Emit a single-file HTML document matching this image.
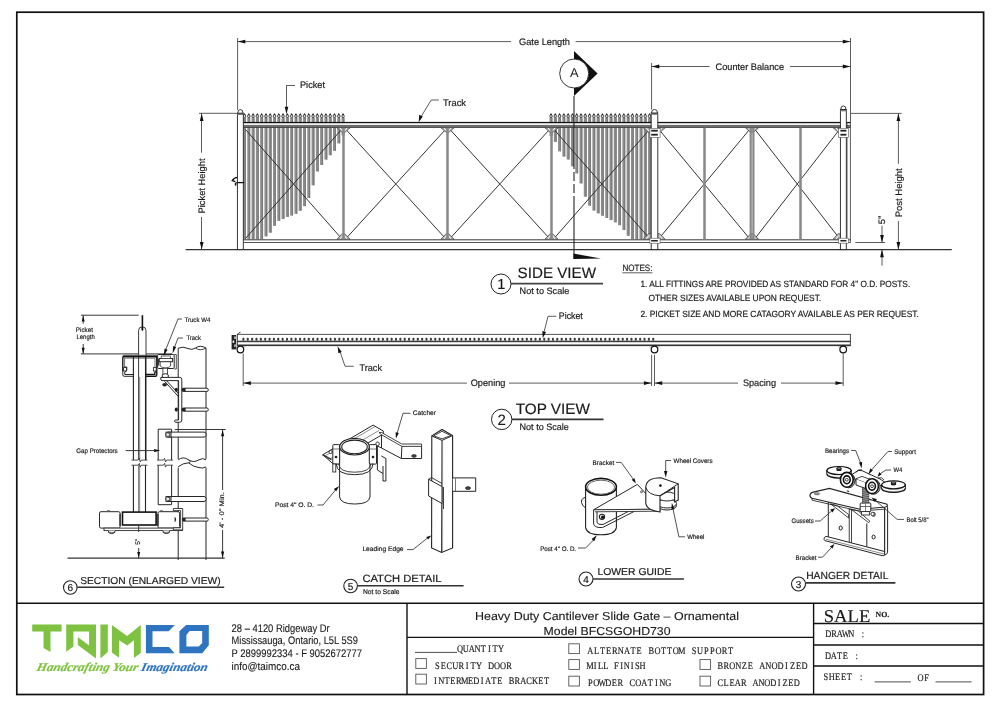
<!DOCTYPE html>
<html><head><meta charset="utf-8">
<style>
html,body{margin:0;padding:0;background:#fff;width:1000px;height:707px;overflow:hidden}
svg{display:block;font-family:"Liberation Sans",sans-serif;text-rendering:geometricPrecision}
text{-webkit-font-smoothing:antialiased}
svg{will-change:transform}
.t{font-family:"Liberation Sans",sans-serif;fill:#1a1a1a;stroke:#1a1a1a;stroke-width:0.18px}
.s{font-family:"Liberation Serif",serif;fill:#1a1a1a;stroke:#1a1a1a;stroke-width:0.15px}
.c{font-family:"Liberation Sans",sans-serif;fill:#1a1a1a;stroke:#1a1a1a;stroke-width:0.12px}
.m{font-family:"Liberation Mono",monospace;fill:#222;stroke:#222;stroke-width:0.4px}
.o{font-family:"Liberation Serif",serif;fill:#222;stroke:#222;stroke-width:0.18px}
</style></head><body>
<svg width="1000" height="707" viewBox="0 0 1000 707">

<g fill="none" stroke="#111">
<rect x="16.8" y="12.2" width="966.8" height="682.3" stroke-width="1.7"/>
<line x1="16.8" y1="603.2" x2="983.6" y2="603.2" stroke-width="1.6"/>
<line x1="407" y1="603.2" x2="407" y2="694.5" stroke-width="1.4"/>
<line x1="813.6" y1="603.2" x2="813.6" y2="694.5" stroke-width="1.4"/>
<line x1="407" y1="637.4" x2="813.6" y2="637.4" stroke-width="1.3"/>
<line x1="813.6" y1="623.5" x2="983.6" y2="623.5" stroke-width="1.3"/>
<line x1="813.6" y1="645" x2="983.6" y2="645" stroke-width="1.3"/>
<line x1="813.6" y1="666" x2="983.6" y2="666" stroke-width="1.3"/>
</g>
<text class="c" x="231.6" y="631.5" font-size="11" textLength="98" lengthAdjust="spacingAndGlyphs" >28 – 4120 Ridgeway Dr</text>
<text class="c" x="231.6" y="644.2" font-size="11" textLength="126.4" lengthAdjust="spacingAndGlyphs" >Mississauga, Ontario, L5L 5S9</text>
<text class="c" x="231.6" y="656.9" font-size="11" textLength="130.4" lengthAdjust="spacingAndGlyphs" >P 2899992334 - F 9052672777</text>
<text class="c" x="231.6" y="669.6" font-size="11" textLength="68.4" lengthAdjust="spacingAndGlyphs" >info@taimco.ca</text>
<text class="c" x="475" y="620" font-size="11.5" textLength="263.9" lengthAdjust="spacingAndGlyphs" >Heavy Duty Cantilever Slide Gate – Ornamental</text>
<text class="c" x="543.6" y="635" font-size="11.5" textLength="126.9" lengthAdjust="spacingAndGlyphs" >Model BFCSGOHD730</text>
<line x1="415.00" y1="652.40" x2="457.00" y2="652.40" stroke="#222" stroke-width="0.8" />
<text class="o" x="547.54 554.54 561.53 568.53 575.52 582.51 589.51 596.50" y="652.4" font-size="10" text-anchor="middle" transform="scale(0.84,1)">QUANTITY</text>
<text class="o" x="520.70 527.80 534.91 542.01 549.12 556.23 563.33 570.44 577.55 584.65 591.76 598.86 605.97" y="668.6" font-size="10" text-anchor="middle" transform="scale(0.84,1)">SECURITY DOOR</text>
<text class="o" x="518.25 525.23 532.20 539.18 546.15 553.13 560.11 567.08 574.06 581.04 588.01 594.99 601.96 608.94 615.92 622.89 629.87 636.85 643.82 650.80" y="684.2" font-size="10" text-anchor="middle" transform="scale(0.84,1)">INTERMEDIATE BRACKET</text>
<text class="o" x="702.80 710.06 717.32 724.58 731.85 739.11 746.37 753.63 760.89 768.15 775.42 782.68 789.94 797.20 804.46 811.73 818.99 826.25 833.51 840.77 848.04 855.30 862.56 869.82" y="653.6" font-size="10" text-anchor="middle" transform="scale(0.84,1)">ALTERNATE BOTTOM SUPPORT</text>
<text class="o" x="702.31 708.58 714.86 721.14 727.41 733.69 739.97 746.24 752.52 758.80 765.08" y="669.4" font-size="10" text-anchor="middle" transform="scale(0.84,1)">MILL FINISH</text>
<text class="o" x="702.74 709.88 717.02 724.17 731.31 738.45 745.60 752.74 759.88 767.02 774.17 781.31 788.45 795.60" y="686" font-size="10" text-anchor="middle" transform="scale(0.84,1)">POWDER COATING</text>
<text class="o" x="857.51 864.67 871.83 878.98 886.14 893.30 900.46 907.62 914.78 921.94 929.10 936.25 943.41 950.57 957.73" y="669.4" font-size="10" text-anchor="middle" transform="scale(0.84,1)">BRONZE ANODIZED</text>
<text class="o" x="857.43 864.44 871.45 878.45 885.46 892.47 899.47 906.48 913.49 920.49 927.50 934.51 941.51 948.52" y="686" font-size="10" text-anchor="middle" transform="scale(0.84,1)">CLEAR ANODIZED</text>
<g fill="none" stroke="#555" stroke-width="0.9">
<rect x="415.8" y="658.6" width="10.6" height="9.8"/>
<rect x="415.8" y="674.2" width="10.6" height="9.8"/>
<rect x="568.8" y="643.8" width="10.6" height="9.8"/>
<rect x="568.8" y="659.6" width="10.6" height="9.8"/>
<rect x="568.8" y="676.2" width="10.6" height="9.8"/>
<rect x="700" y="659.6" width="10.6" height="9.8"/>
<rect x="700" y="676.2" width="10.6" height="9.8"/>
</g>
<text class="s" x="823.7" y="621.6" font-size="18" textLength="46.6" lengthAdjust="spacingAndGlyphs" >SALE</text>
<text class="s" x="875.6" y="617" font-size="8" textLength="13.7" lengthAdjust="spacingAndGlyphs" font-weight="bold">NO.</text>
<text class="o" x="985.95 992.86 999.76 1006.67 1013.57 1020.48 1027.38" y="637.4" font-size="10" text-anchor="middle" transform="scale(0.84,1)">DRAWN :</text>
<text class="o" x="985.89 992.68 999.46 1006.25 1013.04 1019.82" y="659.3" font-size="10" text-anchor="middle" transform="scale(0.84,1)">DATE :</text>
<text class="o" x="983.04 990.09 997.13 1004.17 1011.21 1018.25 1025.29" y="679.6" font-size="10" text-anchor="middle" transform="scale(0.84,1)">SHEET :</text>
<text class="o" x="1095.83 1103.21" y="681" font-size="10" text-anchor="middle" transform="scale(0.84,1)">OF</text>
<line x1="874.70" y1="681.90" x2="910.80" y2="681.90" stroke="#222" stroke-width="0.8" />
<line x1="935.50" y1="681.90" x2="971.60" y2="681.90" stroke="#222" stroke-width="0.8" />
<polygon points="32.20,624.50 61.60,624.50 61.60,631.50 50.50,631.50 50.50,652.00 43.50,648.00 43.50,631.50 32.20,631.50" fill="#7fc241" stroke="none" stroke-width="0.8" />
<polygon points="66.20,624.50 96.00,624.50 96.00,658.60 77.80,645.00 77.80,636.90 89.10,645.50 89.10,631.60 73.40,631.60 73.40,646.40 66.20,651.80" fill="#7fc241" stroke="none" stroke-width="0.8" />
<polygon points="100.40,624.50 107.80,624.50 107.80,652.10 100.40,658.60" fill="#7fc241" stroke="none" stroke-width="0.8" />
<polygon points="111.90,625.00 127.10,636.00 140.80,625.00 140.80,653.00 133.90,658.00 133.90,640.20 127.10,645.50 119.10,640.20 119.10,657.70 111.90,652.40" fill="#7fc241" stroke="none" stroke-width="0.8" />
<polygon points="145.90,624.90 174.90,624.90 168.60,631.20 152.50,631.20 152.50,647.00 169.00,647.00 174.60,653.20 145.90,653.20" fill="#2e74c0" stroke="none" stroke-width="0.8" />
<path fill="#2e74c0" fill-rule="evenodd" d="M179.4,631.2 L186.1,624.9 L208.8,624.9 L208.8,645.2 L202.2,653.2 L179.4,653.2 Z M186.4,635 L189.6,630.9 L202.2,630.9 L202.2,643.1 L198.7,646.6 L186.4,646.6 Z"/>
<g transform="translate(34.6,671) skewX(-14)"><text x="1.5" y="0" font-family="Liberation Serif" font-style="italic" font-weight="bold" font-size="12" textLength="171" lengthAdjust="spacingAndGlyphs" stroke-width="0.2"><tspan fill="#7fc241" stroke="#7fc241">Handcrafting Your </tspan><tspan fill="#2e74c0" stroke="#2e74c0">Imagination</tspan></text></g>
<line x1="185.60" y1="249.60" x2="951.80" y2="249.60" stroke="#333" stroke-width="1.2" />
<line x1="237.60" y1="38.00" x2="237.60" y2="110.00" stroke="#333" stroke-width="0.8" />
<line x1="850.50" y1="38.00" x2="850.50" y2="122.00" stroke="#333" stroke-width="0.8" />
<line x1="237.60" y1="41.60" x2="511.00" y2="41.60" stroke="#333" stroke-width="0.8" />
<line x1="575.60" y1="41.60" x2="850.50" y2="41.60" stroke="#333" stroke-width="0.8" />
<polygon points="237.80,41.60 245.30,39.70 245.30,43.50" fill="#111" stroke="none" stroke-width="0.8" />
<polygon points="850.30,41.60 842.80,39.70 842.80,43.50" fill="#111" stroke="none" stroke-width="0.8" />
<text class="t" x="519" y="44.6" font-size="9.4" textLength="51" lengthAdjust="spacingAndGlyphs" >Gate Length</text>
<line x1="651.60" y1="63.00" x2="651.60" y2="109.50" stroke="#333" stroke-width="0.8" />
<line x1="651.60" y1="66.50" x2="709.60" y2="66.50" stroke="#333" stroke-width="0.8" />
<line x1="790.00" y1="66.50" x2="850.50" y2="66.50" stroke="#333" stroke-width="0.8" />
<polygon points="651.80,66.50 659.30,64.60 659.30,68.40" fill="#111" stroke="none" stroke-width="0.8" />
<polygon points="850.30,66.50 842.80,64.60 842.80,68.40" fill="#111" stroke="none" stroke-width="0.8" />
<text class="t" x="715.6" y="69.9" font-size="9.4" textLength="68.4" lengthAdjust="spacingAndGlyphs" >Counter Balance</text>
<line x1="199.00" y1="113.30" x2="238.00" y2="113.30" stroke="#333" stroke-width="0.8" />
<line x1="201.50" y1="113.30" x2="201.50" y2="152.70" stroke="#333" stroke-width="0.8" />
<line x1="201.50" y1="217.00" x2="201.50" y2="249.60" stroke="#333" stroke-width="0.8" />
<polygon points="201.70,113.50 199.80,121.00 203.60,121.00" fill="#111" stroke="none" stroke-width="0.8" />
<polygon points="201.70,249.40 199.80,241.90 203.60,241.90" fill="#111" stroke="none" stroke-width="0.8" />
<text class="t" x="0" y="0" font-size="9.4" text-anchor="middle" dominant-baseline="central" textLength="55" lengthAdjust="spacingAndGlyphs" transform="translate(201.5,186) rotate(-90)">Picket Height</text>
<line x1="851.00" y1="113.40" x2="901.60" y2="113.40" stroke="#333" stroke-width="0.8" />
<line x1="898.40" y1="113.40" x2="898.40" y2="163.80" stroke="#333" stroke-width="0.8" />
<line x1="898.40" y1="221.10" x2="898.40" y2="249.60" stroke="#333" stroke-width="0.8" />
<polygon points="898.40,113.60 896.50,121.10 900.30,121.10" fill="#111" stroke="none" stroke-width="0.8" />
<polygon points="898.40,249.40 896.50,241.90 900.30,241.90" fill="#111" stroke="none" stroke-width="0.8" />
<text class="t" x="0" y="0" font-size="9.4" text-anchor="middle" dominant-baseline="central" textLength="49" lengthAdjust="spacingAndGlyphs" transform="translate(898.2,192.8) rotate(-90)">Post Height</text>
<line x1="855.30" y1="242.50" x2="885.10" y2="242.50" stroke="#333" stroke-width="0.8" />
<line x1="882.00" y1="225.70" x2="882.00" y2="242.50" stroke="#333" stroke-width="0.8" />
<line x1="882.00" y1="249.60" x2="882.00" y2="265.70" stroke="#333" stroke-width="0.8" />
<polygon points="882.00,242.40 880.10,234.90 883.90,234.90" fill="#111" stroke="none" stroke-width="0.8" />
<polygon points="882.00,249.70 880.10,257.20 883.90,257.20" fill="#111" stroke="none" stroke-width="0.8" />
<text class="t" x="0" y="0" font-size="9.4" text-anchor="middle" dominant-baseline="central" transform="translate(881.6,220) rotate(-90)">5"</text>
<rect x="243.00" y="117.6" width="3.0" height="122.40" fill="#8e8e8e"/>
<rect x="244.70" y="117.6" width="1.1" height="122.40" fill="#7a7a7a"/>
<path d="M244.50,112.9 L245.60,115 L243.40,115 Z" fill="#111"/>
<ellipse cx="244.50" cy="116.2" rx="1.2" ry="1.45" fill="#fff" stroke="#1a1a1a" stroke-width="0.8"/>
<rect x="247.28" y="117.6" width="3.0" height="122.40" fill="#8e8e8e"/>
<rect x="248.98" y="117.6" width="1.1" height="122.40" fill="#7a7a7a"/>
<path d="M248.78,112.9 L249.88,115 L247.69,115 Z" fill="#111"/>
<ellipse cx="248.78" cy="116.2" rx="1.2" ry="1.45" fill="#fff" stroke="#1a1a1a" stroke-width="0.8"/>
<rect x="251.57" y="117.6" width="3.0" height="122.40" fill="#8e8e8e"/>
<rect x="253.27" y="117.6" width="1.1" height="122.40" fill="#7a7a7a"/>
<path d="M253.07,112.9 L254.17,115 L251.97,115 Z" fill="#111"/>
<ellipse cx="253.07" cy="116.2" rx="1.2" ry="1.45" fill="#fff" stroke="#1a1a1a" stroke-width="0.8"/>
<rect x="255.86" y="117.6" width="3.0" height="122.40" fill="#8e8e8e"/>
<rect x="257.56" y="117.6" width="1.1" height="122.40" fill="#7a7a7a"/>
<path d="M257.36,112.9 L258.46,115 L256.25,115 Z" fill="#111"/>
<ellipse cx="257.36" cy="116.2" rx="1.2" ry="1.45" fill="#fff" stroke="#1a1a1a" stroke-width="0.8"/>
<rect x="260.14" y="117.6" width="3.0" height="122.37" fill="#8e8e8e"/>
<rect x="261.84" y="117.6" width="1.1" height="122.37" fill="#7a7a7a"/>
<path d="M261.64,112.9 L262.74,115 L260.54,115 Z" fill="#111"/>
<ellipse cx="261.64" cy="116.2" rx="1.2" ry="1.45" fill="#fff" stroke="#1a1a1a" stroke-width="0.8"/>
<rect x="264.43" y="117.6" width="3.0" height="118.72" fill="#8e8e8e"/>
<rect x="266.12" y="117.6" width="1.1" height="118.72" fill="#7a7a7a"/>
<path d="M265.93,112.9 L267.03,115 L264.82,115 Z" fill="#111"/>
<ellipse cx="265.93" cy="116.2" rx="1.2" ry="1.45" fill="#fff" stroke="#1a1a1a" stroke-width="0.8"/>
<rect x="268.71" y="117.6" width="3.0" height="115.08" fill="#8e8e8e"/>
<rect x="270.41" y="117.6" width="1.1" height="115.08" fill="#7a7a7a"/>
<path d="M270.21,112.9 L271.31,115 L269.11,115 Z" fill="#111"/>
<ellipse cx="270.21" cy="116.2" rx="1.2" ry="1.45" fill="#fff" stroke="#1a1a1a" stroke-width="0.8"/>
<rect x="273.00" y="117.6" width="3.0" height="108.18" fill="#8e8e8e"/>
<rect x="274.69" y="117.6" width="1.1" height="108.18" fill="#7a7a7a"/>
<path d="M274.50,112.9 L275.60,115 L273.39,115 Z" fill="#111"/>
<ellipse cx="274.50" cy="116.2" rx="1.2" ry="1.45" fill="#fff" stroke="#1a1a1a" stroke-width="0.8"/>
<rect x="277.28" y="117.6" width="3.0" height="103.23" fill="#8e8e8e"/>
<rect x="278.98" y="117.6" width="1.1" height="103.23" fill="#7a7a7a"/>
<path d="M278.78,112.9 L279.88,115 L277.68,115 Z" fill="#111"/>
<ellipse cx="278.78" cy="116.2" rx="1.2" ry="1.45" fill="#fff" stroke="#1a1a1a" stroke-width="0.8"/>
<rect x="281.56" y="117.6" width="3.0" height="101.37" fill="#8e8e8e"/>
<rect x="283.26" y="117.6" width="1.1" height="101.37" fill="#7a7a7a"/>
<path d="M283.06,112.9 L284.17,115 L281.96,115 Z" fill="#111"/>
<ellipse cx="283.06" cy="116.2" rx="1.2" ry="1.45" fill="#fff" stroke="#1a1a1a" stroke-width="0.8"/>
<rect x="285.85" y="117.6" width="3.0" height="99.29" fill="#8e8e8e"/>
<rect x="287.55" y="117.6" width="1.1" height="99.29" fill="#7a7a7a"/>
<path d="M287.35,112.9 L288.45,115 L286.25,115 Z" fill="#111"/>
<ellipse cx="287.35" cy="116.2" rx="1.2" ry="1.45" fill="#fff" stroke="#1a1a1a" stroke-width="0.8"/>
<rect x="290.13" y="117.6" width="3.0" height="97.94" fill="#8e8e8e"/>
<rect x="291.83" y="117.6" width="1.1" height="97.94" fill="#7a7a7a"/>
<path d="M291.63,112.9 L292.74,115 L290.53,115 Z" fill="#111"/>
<ellipse cx="291.63" cy="116.2" rx="1.2" ry="1.45" fill="#fff" stroke="#1a1a1a" stroke-width="0.8"/>
<rect x="294.42" y="117.6" width="3.0" height="96.19" fill="#8e8e8e"/>
<rect x="296.12" y="117.6" width="1.1" height="96.19" fill="#7a7a7a"/>
<path d="M295.92,112.9 L297.02,115 L294.82,115 Z" fill="#111"/>
<ellipse cx="295.92" cy="116.2" rx="1.2" ry="1.45" fill="#fff" stroke="#1a1a1a" stroke-width="0.8"/>
<rect x="298.70" y="117.6" width="3.0" height="93.20" fill="#8e8e8e"/>
<rect x="300.40" y="117.6" width="1.1" height="93.20" fill="#7a7a7a"/>
<path d="M300.20,112.9 L301.31,115 L299.10,115 Z" fill="#111"/>
<ellipse cx="300.20" cy="116.2" rx="1.2" ry="1.45" fill="#fff" stroke="#1a1a1a" stroke-width="0.8"/>
<rect x="302.99" y="117.6" width="3.0" height="88.54" fill="#8e8e8e"/>
<rect x="304.69" y="117.6" width="1.1" height="88.54" fill="#7a7a7a"/>
<path d="M304.49,112.9 L305.59,115 L303.39,115 Z" fill="#111"/>
<ellipse cx="304.49" cy="116.2" rx="1.2" ry="1.45" fill="#fff" stroke="#1a1a1a" stroke-width="0.8"/>
<rect x="307.27" y="117.6" width="3.0" height="80.39" fill="#8e8e8e"/>
<rect x="308.97" y="117.6" width="1.1" height="80.39" fill="#7a7a7a"/>
<path d="M308.77,112.9 L309.88,115 L307.67,115 Z" fill="#111"/>
<ellipse cx="308.77" cy="116.2" rx="1.2" ry="1.45" fill="#fff" stroke="#1a1a1a" stroke-width="0.8"/>
<rect x="311.56" y="117.6" width="3.0" height="67.73" fill="#8e8e8e"/>
<rect x="313.26" y="117.6" width="1.1" height="67.73" fill="#7a7a7a"/>
<path d="M313.06,112.9 L314.16,115 L311.96,115 Z" fill="#111"/>
<ellipse cx="313.06" cy="116.2" rx="1.2" ry="1.45" fill="#fff" stroke="#1a1a1a" stroke-width="0.8"/>
<rect x="315.85" y="117.6" width="3.0" height="53.86" fill="#8e8e8e"/>
<rect x="317.55" y="117.6" width="1.1" height="53.86" fill="#7a7a7a"/>
<path d="M317.35,112.9 L318.45,115 L316.25,115 Z" fill="#111"/>
<ellipse cx="317.35" cy="116.2" rx="1.2" ry="1.45" fill="#fff" stroke="#1a1a1a" stroke-width="0.8"/>
<rect x="320.13" y="117.6" width="3.0" height="47.36" fill="#8e8e8e"/>
<rect x="321.83" y="117.6" width="1.1" height="47.36" fill="#7a7a7a"/>
<path d="M321.63,112.9 L322.73,115 L320.53,115 Z" fill="#111"/>
<ellipse cx="321.63" cy="116.2" rx="1.2" ry="1.45" fill="#fff" stroke="#1a1a1a" stroke-width="0.8"/>
<rect x="324.42" y="117.6" width="3.0" height="42.01" fill="#8e8e8e"/>
<rect x="326.12" y="117.6" width="1.1" height="42.01" fill="#7a7a7a"/>
<path d="M325.92,112.9 L327.02,115 L324.81,115 Z" fill="#111"/>
<ellipse cx="325.92" cy="116.2" rx="1.2" ry="1.45" fill="#fff" stroke="#1a1a1a" stroke-width="0.8"/>
<rect x="328.70" y="117.6" width="3.0" height="37.60" fill="#8e8e8e"/>
<rect x="330.40" y="117.6" width="1.1" height="37.60" fill="#7a7a7a"/>
<path d="M330.20,112.9 L331.30,115 L329.10,115 Z" fill="#111"/>
<ellipse cx="330.20" cy="116.2" rx="1.2" ry="1.45" fill="#fff" stroke="#1a1a1a" stroke-width="0.8"/>
<rect x="332.99" y="117.6" width="3.0" height="33.25" fill="#8e8e8e"/>
<rect x="334.69" y="117.6" width="1.1" height="33.25" fill="#7a7a7a"/>
<path d="M334.49,112.9 L335.59,115 L333.38,115 Z" fill="#111"/>
<ellipse cx="334.49" cy="116.2" rx="1.2" ry="1.45" fill="#fff" stroke="#1a1a1a" stroke-width="0.8"/>
<rect x="337.27" y="117.6" width="3.0" height="25.80" fill="#8e8e8e"/>
<rect x="338.97" y="117.6" width="1.1" height="25.80" fill="#7a7a7a"/>
<path d="M338.77,112.9 L339.87,115 L337.67,115 Z" fill="#111"/>
<ellipse cx="338.77" cy="116.2" rx="1.2" ry="1.45" fill="#fff" stroke="#1a1a1a" stroke-width="0.8"/>
<rect x="341.56" y="117.6" width="3.0" height="17.91" fill="#8e8e8e"/>
<rect x="343.25" y="117.6" width="1.1" height="17.91" fill="#7a7a7a"/>
<path d="M343.06,112.9 L344.16,115 L341.95,115 Z" fill="#111"/>
<ellipse cx="343.06" cy="116.2" rx="1.2" ry="1.45" fill="#fff" stroke="#1a1a1a" stroke-width="0.8"/>
<line x1="244.50" y1="116.30" x2="343.06" y2="116.30" stroke="#777" stroke-width="0.3" />
<rect x="549.50" y="117.6" width="3.0" height="18.40" fill="#8e8e8e"/>
<rect x="551.20" y="117.6" width="1.1" height="18.40" fill="#7a7a7a"/>
<path d="M551.00,112.9 L552.10,115 L549.90,115 Z" fill="#111"/>
<ellipse cx="551.00" cy="116.2" rx="1.2" ry="1.45" fill="#fff" stroke="#1a1a1a" stroke-width="0.8"/>
<rect x="553.78" y="117.6" width="3.0" height="24.24" fill="#8e8e8e"/>
<rect x="555.49" y="117.6" width="1.1" height="24.24" fill="#7a7a7a"/>
<path d="M555.28,112.9 L556.38,115 L554.18,115 Z" fill="#111"/>
<ellipse cx="555.28" cy="116.2" rx="1.2" ry="1.45" fill="#fff" stroke="#1a1a1a" stroke-width="0.8"/>
<rect x="558.07" y="117.6" width="3.0" height="33.74" fill="#8e8e8e"/>
<rect x="559.77" y="117.6" width="1.1" height="33.74" fill="#7a7a7a"/>
<path d="M559.57,112.9 L560.67,115 L558.47,115 Z" fill="#111"/>
<ellipse cx="559.57" cy="116.2" rx="1.2" ry="1.45" fill="#fff" stroke="#1a1a1a" stroke-width="0.8"/>
<rect x="562.36" y="117.6" width="3.0" height="38.96" fill="#8e8e8e"/>
<rect x="564.06" y="117.6" width="1.1" height="38.96" fill="#7a7a7a"/>
<path d="M563.86,112.9 L564.96,115 L562.75,115 Z" fill="#111"/>
<ellipse cx="563.86" cy="116.2" rx="1.2" ry="1.45" fill="#fff" stroke="#1a1a1a" stroke-width="0.8"/>
<rect x="566.64" y="117.6" width="3.0" height="41.94" fill="#8e8e8e"/>
<rect x="568.34" y="117.6" width="1.1" height="41.94" fill="#7a7a7a"/>
<path d="M568.14,112.9 L569.24,115 L567.04,115 Z" fill="#111"/>
<ellipse cx="568.14" cy="116.2" rx="1.2" ry="1.45" fill="#fff" stroke="#1a1a1a" stroke-width="0.8"/>
<rect x="570.92" y="117.6" width="3.0" height="48.79" fill="#8e8e8e"/>
<rect x="572.62" y="117.6" width="1.1" height="48.79" fill="#7a7a7a"/>
<path d="M572.42,112.9 L573.52,115 L571.32,115 Z" fill="#111"/>
<ellipse cx="572.42" cy="116.2" rx="1.2" ry="1.45" fill="#fff" stroke="#1a1a1a" stroke-width="0.8"/>
<rect x="575.21" y="117.6" width="3.0" height="55.80" fill="#8e8e8e"/>
<rect x="576.91" y="117.6" width="1.1" height="55.80" fill="#7a7a7a"/>
<path d="M576.71,112.9 L577.81,115 L575.61,115 Z" fill="#111"/>
<ellipse cx="576.71" cy="116.2" rx="1.2" ry="1.45" fill="#fff" stroke="#1a1a1a" stroke-width="0.8"/>
<rect x="579.50" y="117.6" width="3.0" height="65.82" fill="#8e8e8e"/>
<rect x="581.20" y="117.6" width="1.1" height="65.82" fill="#7a7a7a"/>
<path d="M581.00,112.9 L582.10,115 L579.89,115 Z" fill="#111"/>
<ellipse cx="581.00" cy="116.2" rx="1.2" ry="1.45" fill="#fff" stroke="#1a1a1a" stroke-width="0.8"/>
<rect x="583.78" y="117.6" width="3.0" height="79.07" fill="#8e8e8e"/>
<rect x="585.48" y="117.6" width="1.1" height="79.07" fill="#7a7a7a"/>
<path d="M585.28,112.9 L586.38,115 L584.18,115 Z" fill="#111"/>
<ellipse cx="585.28" cy="116.2" rx="1.2" ry="1.45" fill="#fff" stroke="#1a1a1a" stroke-width="0.8"/>
<rect x="588.07" y="117.6" width="3.0" height="88.04" fill="#8e8e8e"/>
<rect x="589.77" y="117.6" width="1.1" height="88.04" fill="#7a7a7a"/>
<path d="M589.57,112.9 L590.67,115 L588.47,115 Z" fill="#111"/>
<ellipse cx="589.57" cy="116.2" rx="1.2" ry="1.45" fill="#fff" stroke="#1a1a1a" stroke-width="0.8"/>
<rect x="592.35" y="117.6" width="3.0" height="92.94" fill="#8e8e8e"/>
<rect x="594.05" y="117.6" width="1.1" height="92.94" fill="#7a7a7a"/>
<path d="M593.85,112.9 L594.95,115 L592.75,115 Z" fill="#111"/>
<ellipse cx="593.85" cy="116.2" rx="1.2" ry="1.45" fill="#fff" stroke="#1a1a1a" stroke-width="0.8"/>
<rect x="596.63" y="117.6" width="3.0" height="95.72" fill="#8e8e8e"/>
<rect x="598.34" y="117.6" width="1.1" height="95.72" fill="#7a7a7a"/>
<path d="M598.13,112.9 L599.24,115 L597.03,115 Z" fill="#111"/>
<ellipse cx="598.13" cy="116.2" rx="1.2" ry="1.45" fill="#fff" stroke="#1a1a1a" stroke-width="0.8"/>
<rect x="600.92" y="117.6" width="3.0" height="98.10" fill="#8e8e8e"/>
<rect x="602.62" y="117.6" width="1.1" height="98.10" fill="#7a7a7a"/>
<path d="M602.42,112.9 L603.52,115 L601.32,115 Z" fill="#111"/>
<ellipse cx="602.42" cy="116.2" rx="1.2" ry="1.45" fill="#fff" stroke="#1a1a1a" stroke-width="0.8"/>
<rect x="605.21" y="117.6" width="3.0" height="100.28" fill="#8e8e8e"/>
<rect x="606.91" y="117.6" width="1.1" height="100.28" fill="#7a7a7a"/>
<path d="M606.71,112.9 L607.81,115 L605.61,115 Z" fill="#111"/>
<ellipse cx="606.71" cy="116.2" rx="1.2" ry="1.45" fill="#fff" stroke="#1a1a1a" stroke-width="0.8"/>
<rect x="609.49" y="117.6" width="3.0" height="102.41" fill="#8e8e8e"/>
<rect x="611.19" y="117.6" width="1.1" height="102.41" fill="#7a7a7a"/>
<path d="M610.99,112.9 L612.09,115 L609.89,115 Z" fill="#111"/>
<ellipse cx="610.99" cy="116.2" rx="1.2" ry="1.45" fill="#fff" stroke="#1a1a1a" stroke-width="0.8"/>
<rect x="613.77" y="117.6" width="3.0" height="104.72" fill="#8e8e8e"/>
<rect x="615.48" y="117.6" width="1.1" height="104.72" fill="#7a7a7a"/>
<path d="M615.27,112.9 L616.38,115 L614.17,115 Z" fill="#111"/>
<ellipse cx="615.27" cy="116.2" rx="1.2" ry="1.45" fill="#fff" stroke="#1a1a1a" stroke-width="0.8"/>
<rect x="618.06" y="117.6" width="3.0" height="107.57" fill="#8e8e8e"/>
<rect x="619.76" y="117.6" width="1.1" height="107.57" fill="#7a7a7a"/>
<path d="M619.56,112.9 L620.66,115 L618.46,115 Z" fill="#111"/>
<ellipse cx="619.56" cy="116.2" rx="1.2" ry="1.45" fill="#fff" stroke="#1a1a1a" stroke-width="0.8"/>
<rect x="622.35" y="117.6" width="3.0" height="112.43" fill="#8e8e8e"/>
<rect x="624.05" y="117.6" width="1.1" height="112.43" fill="#7a7a7a"/>
<path d="M623.85,112.9 L624.95,115 L622.75,115 Z" fill="#111"/>
<ellipse cx="623.85" cy="116.2" rx="1.2" ry="1.45" fill="#fff" stroke="#1a1a1a" stroke-width="0.8"/>
<rect x="626.63" y="117.6" width="3.0" height="118.19" fill="#8e8e8e"/>
<rect x="628.33" y="117.6" width="1.1" height="118.19" fill="#7a7a7a"/>
<path d="M628.13,112.9 L629.23,115 L627.03,115 Z" fill="#111"/>
<ellipse cx="628.13" cy="116.2" rx="1.2" ry="1.45" fill="#fff" stroke="#1a1a1a" stroke-width="0.8"/>
<rect x="630.91" y="117.6" width="3.0" height="121.84" fill="#8e8e8e"/>
<rect x="632.62" y="117.6" width="1.1" height="121.84" fill="#7a7a7a"/>
<path d="M632.41,112.9 L633.51,115 L631.31,115 Z" fill="#111"/>
<ellipse cx="632.41" cy="116.2" rx="1.2" ry="1.45" fill="#fff" stroke="#1a1a1a" stroke-width="0.8"/>
<rect x="635.20" y="117.6" width="3.0" height="122.40" fill="#8e8e8e"/>
<rect x="636.90" y="117.6" width="1.1" height="122.40" fill="#7a7a7a"/>
<path d="M636.70,112.9 L637.80,115 L635.60,115 Z" fill="#111"/>
<ellipse cx="636.70" cy="116.2" rx="1.2" ry="1.45" fill="#fff" stroke="#1a1a1a" stroke-width="0.8"/>
<rect x="639.49" y="117.6" width="3.0" height="122.40" fill="#8e8e8e"/>
<rect x="641.19" y="117.6" width="1.1" height="122.40" fill="#7a7a7a"/>
<path d="M640.99,112.9 L642.09,115 L639.88,115 Z" fill="#111"/>
<ellipse cx="640.99" cy="116.2" rx="1.2" ry="1.45" fill="#fff" stroke="#1a1a1a" stroke-width="0.8"/>
<rect x="643.77" y="117.6" width="3.0" height="122.40" fill="#8e8e8e"/>
<rect x="645.47" y="117.6" width="1.1" height="122.40" fill="#7a7a7a"/>
<path d="M645.27,112.9 L646.37,115 L644.17,115 Z" fill="#111"/>
<ellipse cx="645.27" cy="116.2" rx="1.2" ry="1.45" fill="#fff" stroke="#1a1a1a" stroke-width="0.8"/>
<rect x="648.06" y="117.6" width="3.0" height="122.40" fill="#8e8e8e"/>
<rect x="649.76" y="117.6" width="1.1" height="122.40" fill="#7a7a7a"/>
<path d="M649.56,112.9 L650.66,115 L648.46,115 Z" fill="#111"/>
<ellipse cx="649.56" cy="116.2" rx="1.2" ry="1.45" fill="#fff" stroke="#1a1a1a" stroke-width="0.8"/>
<line x1="551.00" y1="116.30" x2="649.56" y2="116.30" stroke="#777" stroke-width="0.3" />
<line x1="245.50" y1="129.50" x2="341.50" y2="238.50" stroke="#2a2a2a" stroke-width="0.95" />
<line x1="245.50" y1="238.50" x2="341.50" y2="129.50" stroke="#2a2a2a" stroke-width="0.95" />
<line x1="346.00" y1="129.50" x2="445.50" y2="238.50" stroke="#2a2a2a" stroke-width="0.95" />
<line x1="346.00" y1="238.50" x2="445.50" y2="129.50" stroke="#2a2a2a" stroke-width="0.95" />
<line x1="450.00" y1="129.50" x2="549.50" y2="238.50" stroke="#2a2a2a" stroke-width="0.95" />
<line x1="450.00" y1="238.50" x2="549.50" y2="129.50" stroke="#2a2a2a" stroke-width="0.95" />
<line x1="554.00" y1="129.50" x2="649.50" y2="238.50" stroke="#2a2a2a" stroke-width="0.95" />
<line x1="554.00" y1="238.50" x2="649.50" y2="129.50" stroke="#2a2a2a" stroke-width="0.95" />
<line x1="659.00" y1="129.50" x2="749.50" y2="238.50" stroke="#2a2a2a" stroke-width="0.95" />
<line x1="659.00" y1="238.50" x2="749.50" y2="129.50" stroke="#2a2a2a" stroke-width="0.95" />
<line x1="755.00" y1="129.50" x2="839.50" y2="238.50" stroke="#2a2a2a" stroke-width="0.95" />
<line x1="755.00" y1="238.50" x2="839.50" y2="129.50" stroke="#2a2a2a" stroke-width="0.95" />
<rect x="243.2" y="123.1" width="607.3" height="1.9" fill="#fff"/>
<rect x="243.2" y="121.9" width="607.3" height="1.3" fill="#111"/>
<rect x="243.2" y="124.9" width="607.3" height="2.8" fill="#6e6e6e"/>
<rect x="243.2" y="127.1" width="607.3" height="0.7" fill="#333"/>
<rect x="243.2" y="239.1" width="607.3" height="1.3" fill="#666"/>
<rect x="243.2" y="242" width="607.3" height="1" fill="#555"/>
<path d="M336.90,127.8 L350.10,127.8 L344.80,132.4 L342.20,132.4 Z" fill="#b0b0b0" stroke="#333" stroke-width="0.6"/>
<path d="M340.00,127.9 L342.50,131 M347.00,127.9 L344.50,131" fill="none" stroke="#fff" stroke-width="0.9"/>
<path d="M336.90,239.2 L350.10,239.2 L344.80,233.7 L342.20,233.7 Z" fill="#b0b0b0" stroke="#333" stroke-width="0.6"/>
<path d="M340.00,239.1 L342.50,235.5 M347.00,239.1 L344.50,235.5" fill="none" stroke="#fff" stroke-width="0.9"/>
<path d="M440.90,127.8 L454.10,127.8 L448.80,132.4 L446.20,132.4 Z" fill="#b0b0b0" stroke="#333" stroke-width="0.6"/>
<path d="M444.00,127.9 L446.50,131 M451.00,127.9 L448.50,131" fill="none" stroke="#fff" stroke-width="0.9"/>
<path d="M440.90,239.2 L454.10,239.2 L448.80,233.7 L446.20,233.7 Z" fill="#b0b0b0" stroke="#333" stroke-width="0.6"/>
<path d="M444.00,239.1 L446.50,235.5 M451.00,239.1 L448.50,235.5" fill="none" stroke="#fff" stroke-width="0.9"/>
<path d="M544.90,127.8 L558.10,127.8 L552.80,132.4 L550.20,132.4 Z" fill="#b0b0b0" stroke="#333" stroke-width="0.6"/>
<path d="M548.00,127.9 L550.50,131 M555.00,127.9 L552.50,131" fill="none" stroke="#fff" stroke-width="0.9"/>
<path d="M544.90,239.2 L558.10,239.2 L552.80,233.7 L550.20,233.7 Z" fill="#b0b0b0" stroke="#333" stroke-width="0.6"/>
<path d="M548.00,239.1 L550.50,235.5 M555.00,239.1 L552.50,235.5" fill="none" stroke="#fff" stroke-width="0.9"/>
<path d="M745.40,127.8 L758.60,127.8 L753.30,132.4 L750.70,132.4 Z" fill="#b0b0b0" stroke="#333" stroke-width="0.6"/>
<path d="M748.50,127.9 L751.00,131 M755.50,127.9 L753.00,131" fill="none" stroke="#fff" stroke-width="0.9"/>
<path d="M745.40,239.2 L758.60,239.2 L753.30,233.7 L750.70,233.7 Z" fill="#b0b0b0" stroke="#333" stroke-width="0.6"/>
<path d="M748.50,239.1 L751.00,235.5 M755.50,239.1 L753.00,235.5" fill="none" stroke="#fff" stroke-width="0.9"/>
<path d="M657.30,127.8 L665.20,127.8 L659.90,132.4 L657.30,132.4 Z" fill="#b0b0b0" stroke="#333" stroke-width="0.6"/>
<path d="M655.10,127.9 L657.60,131 M662.10,127.9 L659.60,131" fill="none" stroke="#fff" stroke-width="0.9"/>
<path d="M657.30,239.2 L665.20,239.2 L659.90,233.7 L657.30,233.7 Z" fill="#b0b0b0" stroke="#333" stroke-width="0.6"/>
<path d="M655.10,239.1 L657.60,235.5 M662.10,239.1 L659.60,235.5" fill="none" stroke="#fff" stroke-width="0.9"/>
<path d="M643.20,127.8 L651.10,127.8 L651.10,132.4 L648.50,132.4 Z" fill="#b0b0b0" stroke="#333" stroke-width="0.6"/>
<path d="M646.30,127.9 L648.80,131 M653.30,127.9 L650.80,131" fill="none" stroke="#fff" stroke-width="0.9"/>
<path d="M643.20,239.2 L651.10,239.2 L651.10,233.7 L648.50,233.7 Z" fill="#b0b0b0" stroke="#333" stroke-width="0.6"/>
<path d="M646.30,239.1 L648.80,235.5 M653.30,239.1 L650.80,235.5" fill="none" stroke="#fff" stroke-width="0.9"/>
<path d="M833.00,127.8 L840.90,127.8 L840.90,132.4 L838.30,132.4 Z" fill="#b0b0b0" stroke="#333" stroke-width="0.6"/>
<path d="M836.10,127.9 L838.60,131 M843.10,127.9 L840.60,131" fill="none" stroke="#fff" stroke-width="0.9"/>
<path d="M833.00,239.2 L840.90,239.2 L840.90,233.7 L838.30,233.7 Z" fill="#b0b0b0" stroke="#333" stroke-width="0.6"/>
<path d="M836.10,239.1 L838.60,235.5 M843.10,239.1 L840.60,235.5" fill="none" stroke="#fff" stroke-width="0.9"/>
<rect x="342.25" y="127.8" width="2.5" height="111.50" fill="#888"/>
<rect x="446.25" y="127.8" width="2.5" height="111.50" fill="#888"/>
<rect x="550.25" y="127.8" width="2.5" height="111.50" fill="#888"/>
<rect x="703.25" y="127.8" width="2.5" height="111.50" fill="#888"/>
<rect x="799.25" y="127.8" width="2.5" height="111.50" fill="#888"/>
<rect x="749.60" y="127.8" width="2.2" height="111.50" fill="#888"/>
<rect x="752.30" y="127.8" width="2.2" height="111.50" fill="#888"/>
<line x1="847.00" y1="122.00" x2="847.00" y2="242.50" stroke="#333" stroke-width="0.8" />
<line x1="850.40" y1="122.00" x2="850.40" y2="242.50" stroke="#333" stroke-width="0.8" />
<rect x="237.40" y="113.20" width="5.90" height="136.40" fill="#fff" stroke="#222" stroke-width="0.9"/>
<rect x="237.40" y="113.20" width="5.90" height="1.8" fill="#777"/>
<path d="M237.70,113.20 A2.65,3.60 0 0 1 243.00,113.20 Z" fill="#fff" stroke="#222" stroke-width="0.9"/>
<rect x="651.20" y="113.00" width="6.60" height="136.60" fill="#fff" stroke="#222" stroke-width="0.9"/>
<rect x="651.20" y="113.00" width="6.60" height="1.8" fill="#777"/>
<path d="M651.50,113.00 A3.00,3.60 0 0 1 657.50,113.00 Z" fill="#fff" stroke="#222" stroke-width="0.9"/>
<rect x="840.40" y="109.50" width="5.90" height="140.10" fill="#fff" stroke="#222" stroke-width="0.9"/>
<rect x="840.40" y="109.50" width="5.90" height="1.8" fill="#777"/>
<path d="M840.70,109.50 A2.65,3.60 0 0 1 846.00,109.50 Z" fill="#fff" stroke="#222" stroke-width="0.9"/>
<rect x="649.9" y="128.3" width="10.2" height="9" fill="#fff" stroke="#555" stroke-width="0.6"/>
<rect x="651.2" y="129.8" width="6.6" height="1.8" fill="#222"/>
<rect x="651.2" y="133.8" width="6.6" height="1.8" fill="#222"/>
<rect x="649.9" y="238.2" width="10.2" height="5" fill="#fff" stroke="#555" stroke-width="0.6"/>
<rect x="651.2" y="240" width="6.6" height="1.5" fill="#222"/>
<rect x="838.6" y="128.3" width="10" height="9" fill="#fff" stroke="#555" stroke-width="0.6"/>
<rect x="840.4" y="129.8" width="6" height="1.8" fill="#222"/>
<rect x="840.4" y="133.8" width="6" height="1.8" fill="#222"/>
<rect x="838.6" y="238.2" width="10" height="5" fill="#fff" stroke="#555" stroke-width="0.6"/>
<rect x="840.4" y="240" width="6" height="1.5" fill="#222"/>
<path d="M236.3,182.6 L244.2,182.6" fill="none" stroke="#111" stroke-width="1.3"/>
<path d="M237.4,177.4 Q234.2,177.4 232.3,180.6 L235.4,181.6" fill="none" stroke="#111" stroke-width="1.4"/>
<path d="M235.6,182.6 L235.6,185.6" fill="none" stroke="#111" stroke-width="1.5"/>
<line x1="286.30" y1="85.50" x2="295.00" y2="85.50" stroke="#333" stroke-width="0.8" />
<line x1="286.50" y1="85.50" x2="286.50" y2="107.00" stroke="#333" stroke-width="0.8" />
<polygon points="286.50,114.20 284.70,106.70 288.30,106.70" fill="#111" stroke="none" stroke-width="0.8" />
<text class="t" x="300" y="88" font-size="9.4" textLength="25" lengthAdjust="spacingAndGlyphs" >Picket</text>
<path d="M438.8,100 L431.2,100 L421.2,116.5" fill="none" stroke="#333" stroke-width="0.8"/>
<polygon points="418.70,122.30 419.20,114.80 422.80,116.60" fill="#111" stroke="none" stroke-width="0.8" />
<text class="t" x="443" y="105.5" font-size="9.4" textLength="23" lengthAdjust="spacingAndGlyphs" >Track</text>
<polygon points="574.00,51.00 597.60,73.60 574.00,96.00" fill="#111" stroke="none" stroke-width="0.8" />
<circle cx="574.2" cy="73.5" r="14.5" fill="#fff" stroke="#222" stroke-width="0.9"/>
<text class="t" x="574.2" y="76.8" font-size="12.8" text-anchor="middle" style="stroke:none">A</text>
<line x1="574.00" y1="96.00" x2="574.00" y2="160.00" stroke="#222" stroke-width="1.1" />
<line x1="574.00" y1="160.00" x2="574.00" y2="199.00" stroke="#222" stroke-width="1.1" stroke-dasharray="9,3"/>
<line x1="574.00" y1="199.00" x2="574.00" y2="259.00" stroke="#222" stroke-width="1.1" />
<polygon points="573.50,253.60 601.00,258.60 573.50,259.10" fill="#111" stroke="none" stroke-width="0.8" />
<circle cx="501" cy="284" r="10" fill="none" stroke="#222" stroke-width="1"/>
<text class="t" x="501.2" y="289.2" font-size="14.5" text-anchor="middle" >1</text>
<line x1="511.00" y1="283.60" x2="603.00" y2="283.60" stroke="#444" stroke-width="1.6" />
<text class="t" x="517.6" y="278" font-size="15" textLength="78.4" lengthAdjust="spacingAndGlyphs" >SIDE VIEW</text>
<text class="t" x="519.6" y="294" font-size="9.3" textLength="49.8" lengthAdjust="spacingAndGlyphs" >Not to Scale</text>
<text class="t" x="622.4" y="271" font-size="9.2" textLength="30" lengthAdjust="spacingAndGlyphs" >NOTES:</text>
<line x1="622.40" y1="272.80" x2="652.40" y2="272.80" stroke="#333" stroke-width="0.8" />
<text class="t" x="640.4" y="287" font-size="9" textLength="269.8" lengthAdjust="spacingAndGlyphs" >1. ALL FITTINGS ARE PROVIDED AS STANDARD FOR 4" O.D. POSTS.</text>
<text class="t" x="648.4" y="301.4" font-size="9" textLength="172.8" lengthAdjust="spacingAndGlyphs" >OTHER SIZES AVAILABLE UPON REQUEST.</text>
<text class="t" x="640.4" y="316.8" font-size="9" textLength="278.4" lengthAdjust="spacingAndGlyphs" >2. PICKET SIZE AND MORE CATAGORY AVAILABLE AS PER REQUEST.</text>
<rect x="237.2" y="333.9" width="613.2" height="0.9" fill="#444"/>
<rect x="237.2" y="340.7" width="613.2" height="1.5" fill="#3a3a3a"/>
<rect x="237.2" y="344.5" width="613.2" height="1.6" fill="#333"/>
<line x1="850.40" y1="333.90" x2="850.40" y2="346.10" stroke="#333" stroke-width="0.9" />
<line x1="237.40" y1="334.00" x2="237.40" y2="346.10" stroke="#333" stroke-width="0.9" />
<rect x="242.40" y="337.8" width="2.0" height="3.0" rx="0.8" fill="#3a3a3a"/>
<rect x="246.76" y="337.8" width="2.0" height="3.0" rx="0.8" fill="#3a3a3a"/>
<rect x="251.12" y="337.8" width="2.0" height="3.0" rx="0.8" fill="#3a3a3a"/>
<rect x="255.48" y="337.8" width="2.0" height="3.0" rx="0.8" fill="#3a3a3a"/>
<rect x="259.84" y="337.8" width="2.0" height="3.0" rx="0.8" fill="#3a3a3a"/>
<rect x="264.20" y="337.8" width="2.0" height="3.0" rx="0.8" fill="#3a3a3a"/>
<rect x="268.56" y="337.8" width="2.0" height="3.0" rx="0.8" fill="#3a3a3a"/>
<rect x="272.92" y="337.8" width="2.0" height="3.0" rx="0.8" fill="#3a3a3a"/>
<rect x="277.28" y="337.8" width="2.0" height="3.0" rx="0.8" fill="#3a3a3a"/>
<rect x="281.64" y="337.8" width="2.0" height="3.0" rx="0.8" fill="#3a3a3a"/>
<rect x="286.00" y="337.8" width="2.0" height="3.0" rx="0.8" fill="#3a3a3a"/>
<rect x="290.36" y="337.8" width="2.0" height="3.0" rx="0.8" fill="#3a3a3a"/>
<rect x="294.72" y="337.8" width="2.0" height="3.0" rx="0.8" fill="#3a3a3a"/>
<rect x="299.08" y="337.8" width="2.0" height="3.0" rx="0.8" fill="#3a3a3a"/>
<rect x="303.44" y="337.8" width="2.0" height="3.0" rx="0.8" fill="#3a3a3a"/>
<rect x="307.80" y="337.8" width="2.0" height="3.0" rx="0.8" fill="#3a3a3a"/>
<rect x="312.16" y="337.8" width="2.0" height="3.0" rx="0.8" fill="#3a3a3a"/>
<rect x="316.52" y="337.8" width="2.0" height="3.0" rx="0.8" fill="#3a3a3a"/>
<rect x="320.88" y="337.8" width="2.0" height="3.0" rx="0.8" fill="#3a3a3a"/>
<rect x="325.24" y="337.8" width="2.0" height="3.0" rx="0.8" fill="#3a3a3a"/>
<rect x="329.60" y="337.8" width="2.0" height="3.0" rx="0.8" fill="#3a3a3a"/>
<rect x="333.96" y="337.8" width="2.0" height="3.0" rx="0.8" fill="#3a3a3a"/>
<rect x="338.32" y="337.8" width="2.0" height="3.0" rx="0.8" fill="#3a3a3a"/>
<rect x="342.68" y="337.8" width="2.0" height="3.0" rx="0.8" fill="#3a3a3a"/>
<rect x="347.04" y="337.8" width="2.0" height="3.0" rx="0.8" fill="#3a3a3a"/>
<rect x="351.40" y="337.8" width="2.0" height="3.0" rx="0.8" fill="#3a3a3a"/>
<rect x="355.76" y="337.8" width="2.0" height="3.0" rx="0.8" fill="#3a3a3a"/>
<rect x="360.12" y="337.8" width="2.0" height="3.0" rx="0.8" fill="#3a3a3a"/>
<rect x="364.48" y="337.8" width="2.0" height="3.0" rx="0.8" fill="#3a3a3a"/>
<rect x="368.84" y="337.8" width="2.0" height="3.0" rx="0.8" fill="#3a3a3a"/>
<rect x="373.20" y="337.8" width="2.0" height="3.0" rx="0.8" fill="#3a3a3a"/>
<rect x="377.56" y="337.8" width="2.0" height="3.0" rx="0.8" fill="#3a3a3a"/>
<rect x="381.92" y="337.8" width="2.0" height="3.0" rx="0.8" fill="#3a3a3a"/>
<rect x="386.28" y="337.8" width="2.0" height="3.0" rx="0.8" fill="#3a3a3a"/>
<rect x="390.64" y="337.8" width="2.0" height="3.0" rx="0.8" fill="#3a3a3a"/>
<rect x="395.00" y="337.8" width="2.0" height="3.0" rx="0.8" fill="#3a3a3a"/>
<rect x="399.36" y="337.8" width="2.0" height="3.0" rx="0.8" fill="#3a3a3a"/>
<rect x="403.72" y="337.8" width="2.0" height="3.0" rx="0.8" fill="#3a3a3a"/>
<rect x="408.08" y="337.8" width="2.0" height="3.0" rx="0.8" fill="#3a3a3a"/>
<rect x="412.44" y="337.8" width="2.0" height="3.0" rx="0.8" fill="#3a3a3a"/>
<rect x="416.80" y="337.8" width="2.0" height="3.0" rx="0.8" fill="#3a3a3a"/>
<rect x="421.16" y="337.8" width="2.0" height="3.0" rx="0.8" fill="#3a3a3a"/>
<rect x="425.52" y="337.8" width="2.0" height="3.0" rx="0.8" fill="#3a3a3a"/>
<rect x="429.88" y="337.8" width="2.0" height="3.0" rx="0.8" fill="#3a3a3a"/>
<rect x="434.24" y="337.8" width="2.0" height="3.0" rx="0.8" fill="#3a3a3a"/>
<rect x="438.60" y="337.8" width="2.0" height="3.0" rx="0.8" fill="#3a3a3a"/>
<rect x="442.96" y="337.8" width="2.0" height="3.0" rx="0.8" fill="#3a3a3a"/>
<rect x="447.32" y="337.8" width="2.0" height="3.0" rx="0.8" fill="#3a3a3a"/>
<rect x="451.68" y="337.8" width="2.0" height="3.0" rx="0.8" fill="#3a3a3a"/>
<rect x="456.04" y="337.8" width="2.0" height="3.0" rx="0.8" fill="#3a3a3a"/>
<rect x="460.40" y="337.8" width="2.0" height="3.0" rx="0.8" fill="#3a3a3a"/>
<rect x="464.76" y="337.8" width="2.0" height="3.0" rx="0.8" fill="#3a3a3a"/>
<rect x="469.12" y="337.8" width="2.0" height="3.0" rx="0.8" fill="#3a3a3a"/>
<rect x="473.48" y="337.8" width="2.0" height="3.0" rx="0.8" fill="#3a3a3a"/>
<rect x="477.84" y="337.8" width="2.0" height="3.0" rx="0.8" fill="#3a3a3a"/>
<rect x="482.20" y="337.8" width="2.0" height="3.0" rx="0.8" fill="#3a3a3a"/>
<rect x="486.56" y="337.8" width="2.0" height="3.0" rx="0.8" fill="#3a3a3a"/>
<rect x="490.92" y="337.8" width="2.0" height="3.0" rx="0.8" fill="#3a3a3a"/>
<rect x="495.28" y="337.8" width="2.0" height="3.0" rx="0.8" fill="#3a3a3a"/>
<rect x="499.64" y="337.8" width="2.0" height="3.0" rx="0.8" fill="#3a3a3a"/>
<rect x="504.00" y="337.8" width="2.0" height="3.0" rx="0.8" fill="#3a3a3a"/>
<rect x="508.36" y="337.8" width="2.0" height="3.0" rx="0.8" fill="#3a3a3a"/>
<rect x="512.72" y="337.8" width="2.0" height="3.0" rx="0.8" fill="#3a3a3a"/>
<rect x="517.08" y="337.8" width="2.0" height="3.0" rx="0.8" fill="#3a3a3a"/>
<rect x="521.44" y="337.8" width="2.0" height="3.0" rx="0.8" fill="#3a3a3a"/>
<rect x="525.80" y="337.8" width="2.0" height="3.0" rx="0.8" fill="#3a3a3a"/>
<rect x="530.16" y="337.8" width="2.0" height="3.0" rx="0.8" fill="#3a3a3a"/>
<rect x="534.52" y="337.8" width="2.0" height="3.0" rx="0.8" fill="#3a3a3a"/>
<rect x="538.88" y="337.8" width="2.0" height="3.0" rx="0.8" fill="#3a3a3a"/>
<rect x="543.24" y="337.8" width="2.0" height="3.0" rx="0.8" fill="#3a3a3a"/>
<rect x="547.60" y="337.8" width="2.0" height="3.0" rx="0.8" fill="#3a3a3a"/>
<rect x="551.96" y="337.8" width="2.0" height="3.0" rx="0.8" fill="#3a3a3a"/>
<rect x="556.32" y="337.8" width="2.0" height="3.0" rx="0.8" fill="#3a3a3a"/>
<rect x="560.68" y="337.8" width="2.0" height="3.0" rx="0.8" fill="#3a3a3a"/>
<rect x="565.04" y="337.8" width="2.0" height="3.0" rx="0.8" fill="#3a3a3a"/>
<rect x="569.40" y="337.8" width="2.0" height="3.0" rx="0.8" fill="#3a3a3a"/>
<rect x="573.76" y="337.8" width="2.0" height="3.0" rx="0.8" fill="#3a3a3a"/>
<rect x="578.12" y="337.8" width="2.0" height="3.0" rx="0.8" fill="#3a3a3a"/>
<rect x="582.48" y="337.8" width="2.0" height="3.0" rx="0.8" fill="#3a3a3a"/>
<rect x="586.84" y="337.8" width="2.0" height="3.0" rx="0.8" fill="#3a3a3a"/>
<rect x="591.20" y="337.8" width="2.0" height="3.0" rx="0.8" fill="#3a3a3a"/>
<rect x="595.56" y="337.8" width="2.0" height="3.0" rx="0.8" fill="#3a3a3a"/>
<rect x="599.92" y="337.8" width="2.0" height="3.0" rx="0.8" fill="#3a3a3a"/>
<rect x="604.28" y="337.8" width="2.0" height="3.0" rx="0.8" fill="#3a3a3a"/>
<rect x="608.64" y="337.8" width="2.0" height="3.0" rx="0.8" fill="#3a3a3a"/>
<rect x="613.00" y="337.8" width="2.0" height="3.0" rx="0.8" fill="#3a3a3a"/>
<rect x="617.36" y="337.8" width="2.0" height="3.0" rx="0.8" fill="#3a3a3a"/>
<rect x="621.72" y="337.8" width="2.0" height="3.0" rx="0.8" fill="#3a3a3a"/>
<rect x="626.08" y="337.8" width="2.0" height="3.0" rx="0.8" fill="#3a3a3a"/>
<rect x="630.44" y="337.8" width="2.0" height="3.0" rx="0.8" fill="#3a3a3a"/>
<rect x="634.80" y="337.8" width="2.0" height="3.0" rx="0.8" fill="#3a3a3a"/>
<rect x="639.16" y="337.8" width="2.0" height="3.0" rx="0.8" fill="#3a3a3a"/>
<rect x="643.52" y="337.8" width="2.0" height="3.0" rx="0.8" fill="#3a3a3a"/>
<rect x="647.88" y="337.8" width="2.0" height="3.0" rx="0.8" fill="#3a3a3a"/>
<rect x="652.24" y="337.8" width="2.0" height="3.0" rx="0.8" fill="#3a3a3a"/>
<rect x="231.6" y="335" width="4.6" height="14.4" fill="#222"/>
<rect x="232.6" y="340.6" width="1.6" height="2.2" fill="#fff"/>
<rect x="234.4" y="336.4" width="1.2" height="2.6" fill="#fff"/><rect x="234.4" y="344.4" width="1.2" height="2.6" fill="#fff"/>
<path d="M237.5,334.3 Q238.5,332.6 240.5,332.4" fill="none" stroke="#222" stroke-width="0.9"/>
<path d="M235.4,346.2 L236.4,347.3 L244.4,347.3 L245.4,346.2" fill="none" stroke="#555" stroke-width="0.5"/>
<circle cx="240.4" cy="349.5" r="3.3" fill="#fff" stroke="#111" stroke-width="1.2"/>
<path d="M649.5,346.2 L650.5,347.3 L658.5,347.3 L659.5,346.2" fill="none" stroke="#555" stroke-width="0.5"/>
<circle cx="654.5" cy="349.5" r="3.3" fill="#fff" stroke="#111" stroke-width="1.2"/>
<path d="M838.2,346.2 L839.2,347.3 L847.2,347.3 L848.2,346.2" fill="none" stroke="#555" stroke-width="0.5"/>
<circle cx="843.2" cy="349.5" r="3.3" fill="#fff" stroke="#111" stroke-width="1.2"/>
<line x1="243.20" y1="353.50" x2="243.20" y2="386.00" stroke="#333" stroke-width="0.8" />
<line x1="651.60" y1="354.70" x2="651.60" y2="386.00" stroke="#333" stroke-width="0.8" />
<line x1="654.50" y1="354.70" x2="654.50" y2="386.00" stroke="#333" stroke-width="0.8" />
<line x1="843.20" y1="353.50" x2="843.20" y2="386.00" stroke="#333" stroke-width="0.8" />
<line x1="243.20" y1="383.10" x2="466.90" y2="383.10" stroke="#333" stroke-width="0.8" />
<line x1="509.00" y1="383.10" x2="651.60" y2="383.10" stroke="#333" stroke-width="0.8" />
<line x1="654.50" y1="383.10" x2="738.00" y2="383.10" stroke="#333" stroke-width="0.8" />
<line x1="781.00" y1="383.10" x2="843.20" y2="383.10" stroke="#333" stroke-width="0.8" />
<polygon points="243.40,383.10 250.90,381.20 250.90,385.00" fill="#111" stroke="none" stroke-width="0.8" />
<polygon points="651.40,383.10 643.90,381.20 643.90,385.00" fill="#111" stroke="none" stroke-width="0.8" />
<polygon points="654.70,383.10 662.20,381.20 662.20,385.00" fill="#111" stroke="none" stroke-width="0.8" />
<polygon points="843.00,383.10 835.50,381.20 835.50,385.00" fill="#111" stroke="none" stroke-width="0.8" />
<text class="t" x="470.7" y="386.4" font-size="9.4" textLength="34.8" lengthAdjust="spacingAndGlyphs" >Opening</text>
<text class="t" x="742.9" y="386" font-size="9.4" textLength="33.1" lengthAdjust="spacingAndGlyphs" >Spacing</text>
<path d="M340.2,352 L345,366.25 L353.75,366.25" fill="none" stroke="#333" stroke-width="0.8"/>
<polygon points="337.60,346.30 338.40,353.20 341.80,352.00" fill="#111" stroke="none" stroke-width="0.8" />
<text class="t" x="359.5" y="370.5" font-size="9.4" textLength="22.5" lengthAdjust="spacingAndGlyphs" >Track</text>
<path d="M544.2,331.5 L548,316.3 L556.4,316.3" fill="none" stroke="#333" stroke-width="0.8"/>
<polygon points="542.70,338.20 542.40,331.10 546.00,331.90" fill="#111" stroke="none" stroke-width="0.8" />
<text class="t" x="558.8" y="319.2" font-size="9.4" textLength="24" lengthAdjust="spacingAndGlyphs" >Picket</text>
<circle cx="501.7" cy="419.4" r="10.2" fill="none" stroke="#222" stroke-width="1"/>
<text class="t" x="501.7" y="425" font-size="15" text-anchor="middle" >2</text>
<line x1="511.90" y1="419.40" x2="603.50" y2="419.40" stroke="#333" stroke-width="1.6" />
<text class="t" x="515.7" y="414.1" font-size="15" textLength="74.2" lengthAdjust="spacingAndGlyphs" >TOP VIEW</text>
<text class="t" x="519.5" y="429.9" font-size="9.3" textLength="49.4" lengthAdjust="spacingAndGlyphs" >Not to Scale</text>
<path d="M178.2,560 L178.2,348.2 Q183,346 188,348.5 Q192,350.5 195.5,348 Q200,344.5 206,348 L206,560" fill="#fff" stroke="#222" stroke-width="0.98"/>
<path d="M195.5,348 Q200,351.5 206,348" fill="none" stroke="#222" stroke-width="0.85"/>
<rect x="177" y="459" width="30" height="8.6" fill="#fff"/>
<path d="M178.2,459.8 Q183,456 188.5,459.8 Q193.5,463.2 199,459.8 Q203,457.5 206,459.8" fill="none" stroke="#222" stroke-width="0.98"/>
<path d="M178.2,466.8 Q183,463 188.5,462.8 Q193.5,467 199,467.6 Q203,469 206,466.8" fill="none" stroke="#222" stroke-width="0.98"/>
<path d="M188.5,459.8 Q192,462 188.5,462.8" fill="none" stroke="#222" stroke-width="0.85"/>
<line x1="80.90" y1="315.20" x2="138.60" y2="315.20" stroke="#333" stroke-width="0.98" />
<line x1="80.90" y1="353.90" x2="172.00" y2="353.90" stroke="#333" stroke-width="0.98" />
<line x1="83.20" y1="315.20" x2="83.20" y2="323.70" stroke="#333" stroke-width="0.98" />
<line x1="83.20" y1="344.00" x2="83.20" y2="353.90" stroke="#333" stroke-width="0.98" />
<polygon points="83.20,315.40 81.70,321.40 84.70,321.40" fill="#111" stroke="none" stroke-width="0.98" />
<polygon points="83.20,353.70 81.70,347.70 84.70,347.70" fill="#111" stroke="none" stroke-width="0.98" />
<text class="t" x="75.8" y="331.9" font-size="6.6" textLength="17.2" lengthAdjust="spacingAndGlyphs" >Picket</text>
<text class="t" x="76.4" y="339" font-size="6.6" textLength="18.4" lengthAdjust="spacingAndGlyphs" >Length</text>
<path d="M138.6,460 L138.6,330.5 Q138.6,327 142.3,326.8 Q146,327 146,330.5 L146,460" fill="#fff" stroke="#333" stroke-width="0.98"/>
<line x1="142.40" y1="315.20" x2="142.40" y2="329.00" stroke="#111" stroke-width="1.59" />
<ellipse cx="142.4" cy="329.3" rx="0.9" ry="1.5" fill="#111"/>
<line x1="133.40" y1="357.00" x2="133.40" y2="460.00" stroke="#222" stroke-width="1.10" />
<line x1="145.50" y1="357.00" x2="145.50" y2="460.00" stroke="#222" stroke-width="1.10" />
<line x1="138.50" y1="377.00" x2="138.50" y2="460.00" stroke="#555" stroke-width="0.73" />
<line x1="139.70" y1="377.00" x2="139.70" y2="460.00" stroke="#555" stroke-width="0.73" />
<line x1="133.40" y1="465.20" x2="133.40" y2="512.00" stroke="#222" stroke-width="1.10" />
<line x1="145.50" y1="465.20" x2="145.50" y2="512.00" stroke="#222" stroke-width="1.10" />
<line x1="138.50" y1="465.20" x2="138.50" y2="512.00" stroke="#555" stroke-width="0.73" />
<line x1="139.70" y1="465.20" x2="139.70" y2="512.00" stroke="#555" stroke-width="0.73" />
<path d="M131.5,460.1 L138,460.1 L139.3,458.3 L140.2,462 L141.2,460.1 L147.5,460.1" fill="none" stroke="#333" stroke-width="0.85"/>
<path d="M131.5,465.2 L138,465.2 L139.3,463.4 L140.2,467.1 L141.2,465.2 L147.5,465.2" fill="none" stroke="#333" stroke-width="0.85"/>
<path d="M133.4,376.3 L124.2,376.3 Q122.8,376.3 122.8,374.8 L122.8,371 L124.8,369.5 L124.8,367 L126.8,367 L126.8,370.5 L124.8,372 L124.8,374.5 L133.4,374.5" fill="none" stroke="#222" stroke-width="0.98"/>
<path d="M122.8,371 L122.8,357.8 Q122.8,356.5 124.2,356.5 L155.5,356.5 Q156.8,356.5 156.8,357.8 L156.8,371 L154.8,372.5 L154.8,374.5 L146,374.5 M156.8,371 L156.8,374.8 Q156.8,376.3 155.4,376.3 L146,376.3" fill="none" stroke="#111" stroke-width="1.34"/>
<path d="M124.6,358.2 L155,358.2 L155,369.5 M124.6,358.2 L124.6,368" fill="none" stroke="#444" stroke-width="0.73"/>
<rect x="123.6" y="367.6" width="2.8" height="3.4" fill="#fff" stroke="#222" stroke-width="0.85"/>
<rect x="153.4" y="367.6" width="2.8" height="3.4" fill="#fff" stroke="#222" stroke-width="0.85"/>
<line x1="122.80" y1="356.40" x2="157.00" y2="356.40" stroke="#111" stroke-width="1.60" />
<line x1="122.80" y1="355.20" x2="172.00" y2="355.20" stroke="#555" stroke-width="0.73" />
<rect x="157.6" y="354.5" width="16.6" height="14" rx="1.2" fill="#fff" stroke="#222" stroke-width="0.98"/>
<rect x="159.2" y="358.5" width="13.4" height="3.2" fill="#fff" stroke="#222" stroke-width="0.98"/>
<rect x="161.2" y="356" width="9.4" height="2.5" fill="#fff" stroke="#333" stroke-width="0.73"/>
<path d="M160.2,361.7 L160.2,366 Q162,368 165.4,368 Q168.8,368 170.6,366 L170.6,361.7" fill="none" stroke="#333" stroke-width="0.85"/>
<rect x="157.6" y="359" width="1.6" height="6.5" fill="#333"/>
<path d="M174.2,354.5 L176.3,354.5 L176.3,369 L174.2,369" fill="none" stroke="#333" stroke-width="0.85"/>
<rect x="162.9" y="368.2" width="4.6" height="6.2" fill="#fff" stroke="#333" stroke-width="0.85"/>
<ellipse cx="165.3" cy="376" rx="3.2" ry="2.3" fill="#fff" stroke="#222" stroke-width="0.98"/>
<path d="M160.8,377.4 L179.6,377.4 Q181.8,377.4 181.8,379.6 L181.8,420 Q181.8,422.3 179.6,422.3 L175.6,422.3 Q174.6,422.3 174.6,421.2 Q174.6,420 175.6,420 L178.6,420 L178.6,380.6 L162,380.6 Q160.8,380.6 160.8,379 Z" fill="#fff" stroke="#222" stroke-width="0.98"/>
<path d="M164.6,381.3 L178.6,396.8 M166.8,381 L178.6,393.8" fill="none" stroke="#222" stroke-width="0.98"/>
<ellipse cx="164.6" cy="384.8" rx="2.3" ry="1.8" fill="#222"/>
<rect x="182" y="388.2" width="26.3" height="3.2" rx="1.4" fill="#fff" stroke="#222" stroke-width="0.98"/>
<rect x="182" y="388.2" width="3.6" height="3.2" fill="#222"/>
<ellipse cx="176.3" cy="389.8" rx="1.6" ry="2.1" fill="#222"/>
<rect x="182" y="408.0" width="26.3" height="3.2" rx="1.4" fill="#fff" stroke="#222" stroke-width="0.98"/>
<rect x="182" y="408.0" width="3.6" height="3.2" fill="#222"/>
<ellipse cx="176.3" cy="409.6" rx="1.6" ry="2.1" fill="#222"/>
<path d="M171.6,460.1 L171.6,429.2 L158.2,429.2 L158.2,460.1" fill="none" stroke="#222" stroke-width="0.98"/>
<path d="M171.6,465.2 L171.6,504.7 L158.2,504.7 L158.2,465.2" fill="none" stroke="#222" stroke-width="0.98"/>
<path d="M157,460.1 L163.5,460.1 L164.6,458.3 L165.5,462 L166.5,460.1 L173,460.1" fill="none" stroke="#333" stroke-width="0.85"/>
<path d="M157,465.2 L163.5,465.2 L164.6,463.4 L165.5,467.1 L166.5,465.2 L173,465.2" fill="none" stroke="#333" stroke-width="0.85"/>
<rect x="166" y="432.1" width="40" height="5" rx="2" fill="#fff" stroke="#222" stroke-width="0.98"/>
<rect x="166" y="432.20000000000005" width="5" height="4.8" fill="#fff" stroke="#222" stroke-width="0.98"/>
<path d="M167.3,433.20000000000005 L169.8,433.20000000000005 L169.8,436.0 L167.3,436.0" fill="none" stroke="#222" stroke-width="0.85"/>
<rect x="166" y="496.5" width="40" height="5" rx="2" fill="#fff" stroke="#222" stroke-width="0.98"/>
<rect x="166" y="496.6" width="5" height="4.8" fill="#fff" stroke="#222" stroke-width="0.98"/>
<path d="M167.3,497.6 L169.8,497.6 L169.8,500.4 L167.3,500.4" fill="none" stroke="#222" stroke-width="0.85"/>
<line x1="174.70" y1="429.50" x2="225.70" y2="429.50" stroke="#333" stroke-width="0.98" />
<line x1="222.60" y1="429.50" x2="222.60" y2="490.00" stroke="#333" stroke-width="0.98" />
<line x1="222.60" y1="530.00" x2="222.60" y2="558.20" stroke="#333" stroke-width="0.98" />
<polygon points="222.60,429.70 221.00,436.20 224.20,436.20" fill="#111" stroke="none" stroke-width="0.98" />
<polygon points="222.60,558.00 221.00,551.50 224.20,551.50" fill="#111" stroke="none" stroke-width="0.98" />
<text class="t" x="0" y="0" font-size="6.6" text-anchor="middle" dominant-baseline="central" textLength="36" lengthAdjust="spacingAndGlyphs" transform="translate(222.2,510) rotate(-90)">4' - 0" Min.</text>
<text class="t" x="76.3" y="453.2" font-size="6.6" textLength="41.4" lengthAdjust="spacingAndGlyphs" >Gap Protectors</text>
<line x1="125.70" y1="450.60" x2="154.00" y2="450.60" stroke="#333" stroke-width="0.98" />
<polygon points="160.10,450.60 154.10,449.00 154.10,452.20" fill="#111" stroke="none" stroke-width="0.98" />
<rect x="99.5" y="511.7" width="20.6" height="16.4" rx="1.5" fill="#fff" stroke="#222" stroke-width="0.98"/>
<rect x="157.9" y="511.7" width="21.7" height="16.4" rx="1.5" fill="#fff" stroke="#222" stroke-width="0.98"/>
<rect x="122.5" y="512.1" width="33.6" height="12.9" fill="#fff" stroke="#111" stroke-width="1.59"/>
<line x1="120.10" y1="514.00" x2="120.10" y2="526.00" stroke="#333" stroke-width="1.46" />
<line x1="157.90" y1="514.00" x2="157.90" y2="526.00" stroke="#333" stroke-width="1.46" />
<rect x="104" y="528.1" width="78.4" height="2.5" fill="#fff" stroke="#222" stroke-width="0.85"/>
<path d="M173.3,508.5 L182.7,508.5 L182.7,529.9 L173.3,529.9 L173.3,527.8 L180.6,527.8 L180.6,510.6 L173.3,510.6 Z" fill="#fff" stroke="#222" stroke-width="0.85"/>
<rect x="182.4" y="518" width="25.9" height="3.1" rx="1.4" fill="#fff" stroke="#222" stroke-width="0.98"/>
<rect x="182.4" y="518" width="3.2" height="3.1" fill="#222"/>
<path d="M174.6,516.5 Q177.6,519.5 174.6,522.5 Z" fill="#222"/>
<path d="M108.2,530.6 A3.5,3 0 0 0 115.2,530.6" fill="#fff" stroke="#222" stroke-width="0.98"/>
<line x1="108.20" y1="532.30" x2="115.20" y2="532.30" stroke="#444" stroke-width="0.73" />
<path d="M162.8,530.6 A3.5,3 0 0 0 169.8,530.6" fill="#fff" stroke="#222" stroke-width="0.98"/>
<line x1="162.80" y1="532.30" x2="169.80" y2="532.30" stroke="#444" stroke-width="0.73" />
<rect x="107" y="510.2" width="3" height="1.5" rx="0.7" fill="#555"/><rect x="160" y="510.2" width="3" height="1.5" rx="0.7" fill="#555"/>
<line x1="138.70" y1="525.00" x2="138.70" y2="532.00" stroke="#333" stroke-width="0.98" />
<line x1="138.70" y1="548.00" x2="138.70" y2="558.20" stroke="#333" stroke-width="0.98" />
<polygon points="138.70,558.00 137.20,552.00 140.20,552.00" fill="#111" stroke="none" stroke-width="0.98" />
<text class="t" x="0" y="0" font-size="6.6" text-anchor="middle" dominant-baseline="central" transform="translate(138.5,541.8) rotate(-90)">5"</text>
<line x1="67.50" y1="558.20" x2="224.70" y2="558.20" stroke="#333" stroke-width="1.34" />
<circle cx="70.3" cy="587.5" r="6.8" fill="none" stroke="#222" stroke-width="1.10"/>
<text class="t" x="70.3" y="591.3" font-size="10" text-anchor="middle" >6</text>
<line x1="77.20" y1="587.20" x2="224.20" y2="587.20" stroke="#333" stroke-width="1.60" />
<text class="t" x="80.2" y="583.9" font-size="10" textLength="140.4" lengthAdjust="spacingAndGlyphs" >SECTION (ENLARGED VIEW)</text>
<path d="M182,319 L178,319 L166,349" fill="none" stroke="#333" stroke-width="0.85"/>
<polygon points="163.60,356.20 164.60,348.60 167.60,349.80" fill="#111" stroke="none" stroke-width="0.98" />
<text class="t" x="184.4" y="321.6" font-size="6.6" textLength="26" lengthAdjust="spacingAndGlyphs" >Truck W4</text>
<path d="M183,338 L178,338 L174.8,346.5" fill="none" stroke="#333" stroke-width="0.85"/>
<polygon points="172.60,353.40 173.20,346.00 176.20,347.00" fill="#111" stroke="none" stroke-width="0.98" />
<text class="t" x="186.4" y="340.4" font-size="6.6" textLength="14.6" lengthAdjust="spacingAndGlyphs" >Track</text>
<path d="M322.7,454.8 L373.1,425.1 L383.3,431 L383.3,434 L332.8,463.5 Z" fill="#fff" stroke="#222" stroke-width="0.98"/>
<path d="M325.5,455.6 L375,426.6 M330,459 L379,430.5" fill="none" stroke="#444" stroke-width="0.61"/>
<path d="M379,432.5 L381.5,432.5 L401.9,444 L421.6,444 L421.6,446.4 L401.9,446.4 L381.5,434.8 Z" fill="#fff" stroke="#222" stroke-width="0.85"/>
<path d="M381.5,434.8 L381.5,448 L401.3,458.5 L421.6,458.5 L421.6,446.4 M401.9,446.4 L401.3,458.5 M381.5,448 L377.4,446" fill="none" stroke="#222" stroke-width="0.98"/>
<ellipse cx="414" cy="456" rx="2.4" ry="1.4" fill="#444" stroke="#222" stroke-width="0.61"/>
<path d="M377.4,446 L377.4,470 L383,473.5 M381.4,456 L385.9,458.5 L385.9,481 L383,481 L383,466" fill="none" stroke="#222" stroke-width="0.98"/>
<path d="M339.6,446.7 L339.6,497 Q340.5,504 354.8,504 Q369,504 370,497 L370,446.7" fill="#fff" stroke="#222" stroke-width="0.98"/>
<rect x="332.8" y="444.6" width="6.8" height="19.5" rx="1" fill="#fff" stroke="#222" stroke-width="0.98"/>
<rect x="369.3" y="444.6" width="7.2" height="19.5" rx="1" fill="#fff" stroke="#222" stroke-width="0.98"/>
<rect x="332.8" y="464" width="3" height="8" fill="#fff" stroke="#222" stroke-width="0.85"/>
<line x1="332.80" y1="449.00" x2="339.60" y2="449.00" stroke="#444" stroke-width="0.73" />
<line x1="369.30" y1="449.00" x2="376.50" y2="449.00" stroke="#444" stroke-width="0.73" />
<circle cx="336" cy="457" r="1.3" fill="#222"/><circle cx="373" cy="457" r="1.3" fill="#222"/>
<circle cx="377.6" cy="443.8" r="1.8" fill="#fff" stroke="#222" stroke-width="0.85"/><circle cx="330.6" cy="452" r="1.6" fill="#fff" stroke="#222" stroke-width="0.85"/>
<path d="M322.6,454.6 L331.5,459.6" fill="none" stroke="#333" stroke-width="1.60"/>
<path d="M336.2,463.5 Q336.5,474.7 354.6,474.7 Q372.6,474.7 373.1,463.5" fill="none" stroke="#222" stroke-width="0.98"/>
<path d="M338.6,463.5 Q339,472.2 354.6,472.2 Q370.3,472.2 370.7,463.5" fill="none" stroke="#222" stroke-width="0.85"/>
<ellipse cx="354.5" cy="446.7" rx="14.8" ry="8.3" fill="#fff" stroke="#222" stroke-width="1.22"/>
<ellipse cx="354.5" cy="446.9" rx="12.8" ry="6.8" fill="#fff" stroke="#222" stroke-width="1.10"/>
<path d="M431.8,435.9 L442,429.5 L452.6,435.5 L452.6,548 L441.6,552.4 L431.6,548 Z" fill="#fff" stroke="#222" stroke-width="1.10"/>
<path d="M431.8,435.9 L442,440.4 L452.6,435.5 M442,440.4 L441.6,552.4" fill="none" stroke="#222" stroke-width="0.98"/>
<path d="M433.6,435.9 L442,431.3 L450.8,435.6 L442,438.8 Z" fill="none" stroke="#222" stroke-width="0.85"/>
<line x1="442.60" y1="440.40" x2="442.60" y2="552.00" stroke="#777" stroke-width="0.61" />
<path d="M428.6,479.2 L428.6,496 L442,503.5 L442,486.6 Z" fill="#fff" stroke="#222" stroke-width="0.98"/>
<path d="M428.6,479.2 L431.6,477.6 M431.6,477.6 L442,483.5" fill="none" stroke="#222" stroke-width="0.85"/>
<line x1="443.50" y1="487.00" x2="443.50" y2="509.00" stroke="#222" stroke-width="0.85" />
<path d="M452.8,477.9 L475.7,477.9 L475.7,491.3 L452.8,491.3" fill="#fff" stroke="#222" stroke-width="0.98"/>
<line x1="455.50" y1="478.50" x2="455.50" y2="491.00" stroke="#444" stroke-width="0.73" />
<ellipse cx="468" cy="488.1" rx="2.6" ry="1.5" fill="#444" stroke="#222" stroke-width="0.61"/>
<text class="t" x="412.8" y="415.4" font-size="6.6" textLength="23.2" lengthAdjust="spacingAndGlyphs" >Catcher</text>
<path d="M410.5,413.3 L403,413.3 L397.2,433" fill="none" stroke="#333" stroke-width="0.85"/>
<polygon points="395.90,438.80 395.60,432.20 398.80,432.90" fill="#111" stroke="none" stroke-width="0.98" />
<text class="t" x="275" y="507.4" font-size="6.6" textLength="39" lengthAdjust="spacingAndGlyphs" >Post 4" O. D.</text>
<path d="M317.6,505 L323,505 L335.5,490" fill="none" stroke="#333" stroke-width="0.85"/>
<polygon points="339.30,486.00 333.80,489.00 336.20,491.20" fill="#111" stroke="none" stroke-width="0.98" />
<text class="t" x="362.4" y="551.2" font-size="6.6" textLength="41.2" lengthAdjust="spacingAndGlyphs" >Leading Edge</text>
<path d="M407,549.6 L413,549.6 L427.5,538" fill="none" stroke="#333" stroke-width="0.85"/>
<polygon points="431.40,535.40 426.20,537.00 428.20,539.60" fill="#111" stroke="none" stroke-width="0.98" />
<circle cx="350.6" cy="586" r="6.8" fill="none" stroke="#222" stroke-width="1.10"/>
<text class="t" x="350.6" y="589.8" font-size="10" text-anchor="middle" >5</text>
<line x1="357.40" y1="585.70" x2="463.60" y2="585.70" stroke="#333" stroke-width="1.60" />
<text class="t" x="362.4" y="582" font-size="10.5" textLength="79.2" lengthAdjust="spacingAndGlyphs" >CATCH DETAIL</text>
<text class="t" x="363" y="593.6" font-size="6.8" textLength="36.6" lengthAdjust="spacingAndGlyphs" >Not to Scale</text>
<path d="M586,497 Q579,499 582.6,505 Q585,509 593.6,511" fill="none" stroke="#222" stroke-width="0.98"/>
<path d="M585.6,486.8 L585.6,527.6 Q587,534.8 601,534.8 Q615,534.8 616.4,527.6 L616.4,486.8" fill="#fff" stroke="#222" stroke-width="1.10"/>
<ellipse cx="601" cy="486.8" rx="15.4" ry="8.4" fill="#fff" stroke="#111" stroke-width="1.59"/>
<ellipse cx="601" cy="487.2" rx="13.6" ry="7" fill="#fff" stroke="#333" stroke-width="0.73"/>
<ellipse cx="667" cy="505.5" rx="9.5" ry="4.5" fill="#fff" stroke="#222" stroke-width="0.98"/>
<ellipse cx="667" cy="503.5" rx="9.5" ry="4.5" fill="#fff" stroke="#222" stroke-width="0.98"/>
<ellipse cx="667" cy="496.5" rx="9.5" ry="4.5" fill="#fff" stroke="#222" stroke-width="0.98"/>
<path d="M593.6,509.8 L637.4,484.4 L660,509.2 Z" fill="#fff" stroke="#222" stroke-width="0.98"/>
<path d="M593.6,509.8 L660,509.2 L660,511.2 L595,511.8" fill="#fff" stroke="#222" stroke-width="0.85"/>
<path d="M593.6,510 L593.6,524 Q594.5,528 602.6,527.5 L634,511.5 M597,512 L597,522.5 Q598,525 603,524.5 L628,511.6" fill="none" stroke="#222" stroke-width="0.98"/>
<circle cx="602" cy="516.8" r="2.6" fill="#fff" stroke="#222" stroke-width="1.10"/><circle cx="602.6" cy="517.2" r="1.6" fill="#111"/>
<circle cx="641.5" cy="491.8" r="1" fill="#fff" stroke="#222" stroke-width="0.73"/>
<path d="M645.8,487.5 Q646,477.8 661,477.8 L678.2,483.8 L678.2,500.2 L674.6,501.8 L674.6,487.4 L660,495.8 L660,512 Q646,510 645.8,503 Z" fill="#fff" stroke="#222" stroke-width="1.10"/>
<path d="M645.8,487.5 Q648,495 660,495.8" fill="none" stroke="#222" stroke-width="0.98"/>
<path d="M660,495.8 L678.2,483.8" fill="none" stroke="#222" stroke-width="0.98"/>
<circle cx="660.4" cy="485.6" r="1.3" fill="#111"/>
<text class="t" x="592.6" y="464.6" font-size="6.6" textLength="21.6" lengthAdjust="spacingAndGlyphs" >Bracket</text>
<path d="M616,462.4 L621.2,462.4 L633.5,479.5" fill="none" stroke="#333" stroke-width="0.85"/>
<polygon points="635.80,483.60 631.60,479.80 634.60,478.20" fill="#111" stroke="none" stroke-width="0.98" />
<text class="t" x="673.6" y="462.8" font-size="6.6" textLength="38.9" lengthAdjust="spacingAndGlyphs" >Wheel Covers</text>
<path d="M671,460.5 L665.7,460.5 L665.7,471" fill="none" stroke="#333" stroke-width="0.85"/>
<polygon points="665.70,477.60 664.00,471.00 667.40,471.00" fill="#111" stroke="none" stroke-width="0.98" />
<text class="t" x="687.2" y="539.2" font-size="6.6" textLength="17.2" lengthAdjust="spacingAndGlyphs" >Wheel</text>
<path d="M685,536.8 L678.9,536.8 L673,509" fill="none" stroke="#333" stroke-width="0.85"/>
<polygon points="671.80,502.70 671.40,509.60 674.60,509.00" fill="#111" stroke="none" stroke-width="0.98" />
<text class="t" x="540.2" y="550.6" font-size="6.6" textLength="35.9" lengthAdjust="spacingAndGlyphs" >Post 4" O. D.</text>
<path d="M578,548 L585.6,548 L593.5,540" fill="none" stroke="#333" stroke-width="0.85"/>
<polygon points="596.80,535.20 591.60,539.00 594.20,541.20" fill="#111" stroke="none" stroke-width="0.98" />
<circle cx="586" cy="579" r="7" fill="none" stroke="#222" stroke-width="1.10"/>
<text class="t" x="586" y="582.8" font-size="10" text-anchor="middle" >4</text>
<line x1="593.00" y1="579.00" x2="683.90" y2="579.00" stroke="#333" stroke-width="1.60" />
<text class="t" x="597.4" y="575.3" font-size="10" textLength="74" lengthAdjust="spacingAndGlyphs" >LOWER GUIDE</text>
<path d="M884.5,504.5 Q887.6,504.8 887.6,508 L887.6,551 Q887.6,555.5 883,555 L884.6,552 L884.6,508 Z" fill="#fff" stroke="#222" stroke-width="0.98"/>
<path d="M828.3,501.5 L828.3,537.6 L884.6,552 L884.6,508" fill="#fff" stroke="#222" stroke-width="0.98"/>
<rect x="849.2" y="509.3" width="2.3" height="34.5" fill="#fff" stroke="#222" stroke-width="0.85"/>
<line x1="866.80" y1="523.50" x2="866.80" y2="546.70" stroke="#222" stroke-width="0.98" />
<path d="M830.6,503.8 L848.6,518 L848.6,514.5 L837,505.6 Z" fill="#fff" stroke="#222" stroke-width="0.85"/>
<path d="M851.5,509.6 L868.5,522.5 L870,521.4 L858,510.8 Z" fill="#fff" stroke="#222" stroke-width="0.85"/>
<path d="M824.3,537.6 L826,536.3 L884.6,551.5 L884.6,555 Q884,556 882,555.6 L824.8,540.6 Q823.6,539.8 824.3,537.6 Z" fill="#fff" stroke="#222" stroke-width="0.98"/>
<line x1="826.00" y1="539.20" x2="884.00" y2="554.00" stroke="#444" stroke-width="0.61" />
<ellipse cx="840.7" cy="528" rx="1.6" ry="2" fill="#fff" stroke="#222" stroke-width="0.98"/>
<ellipse cx="873.6" cy="537" rx="1.6" ry="2" fill="#fff" stroke="#222" stroke-width="0.98"/>
<ellipse cx="873.6" cy="514.4" rx="1.6" ry="2" fill="#fff" stroke="#222" stroke-width="0.98"/>
<path d="M812.4,492.4 L829.4,488.4 L887,504.2 Q888.2,506 885.6,507 L860,509.2 L812,498.2 Q809.6,497 810,494.8 Q810.4,493 812.4,492.4 Z" fill="#fff" stroke="#222" stroke-width="1.10"/>
<path d="M812,498.2 L812,500.2 L860,511.2 L885.6,509" fill="none" stroke="#222" stroke-width="0.85"/>
<ellipse cx="817" cy="493.8" rx="2.8" ry="1.1" fill="#999" stroke="#444" stroke-width="0.49"/>
<line x1="847.00" y1="490.80" x2="849.00" y2="491.60" stroke="#333" stroke-width="1.22" />
<rect x="860.2" y="503" width="10.6" height="8.8" rx="1" fill="#fff" stroke="#222" stroke-width="0.98"/>
<line x1="860.20" y1="506.50" x2="870.80" y2="506.50" stroke="#333" stroke-width="0.73" />
<line x1="865.50" y1="503.00" x2="865.50" y2="511.80" stroke="#333" stroke-width="0.61" />
<rect x="861.4" y="511.6" width="8.2" height="3.4" fill="#fff" stroke="#222" stroke-width="0.85"/>
<rect x="862.7" y="487.8" width="6.1" height="15.2" fill="#555" stroke="#222" stroke-width="0.73"/>
<line x1="862.70" y1="488.60" x2="868.80" y2="489.60" stroke="#ccc" stroke-width="0.61" />
<line x1="862.70" y1="490.60" x2="868.80" y2="491.60" stroke="#ccc" stroke-width="0.61" />
<line x1="862.70" y1="492.60" x2="868.80" y2="493.60" stroke="#ccc" stroke-width="0.61" />
<line x1="862.70" y1="494.60" x2="868.80" y2="495.60" stroke="#ccc" stroke-width="0.61" />
<line x1="862.70" y1="496.60" x2="868.80" y2="497.60" stroke="#ccc" stroke-width="0.61" />
<line x1="862.70" y1="498.60" x2="868.80" y2="499.60" stroke="#ccc" stroke-width="0.61" />
<line x1="862.70" y1="500.60" x2="868.80" y2="501.60" stroke="#ccc" stroke-width="0.61" />
<line x1="862.70" y1="502.60" x2="868.80" y2="503.60" stroke="#ccc" stroke-width="0.61" />
<circle cx="872.6" cy="514" r="1.7" fill="#fff" stroke="#222" stroke-width="0.85"/>
<path d="M826.9,470.5 L826.9,474.1 A12.1,4 0 0 0 851.1,474.1 L851.1,470.5 Z" fill="#c8c8c8" stroke="#111" stroke-width="1.22"/>
<path d="M827.4,472.1 A11.6,4 0 0 0 850.6,472.1" fill="none" stroke="#fff" stroke-width="1.10"/>
<ellipse cx="839" cy="470.5" rx="12.1" ry="4" fill="#fff" stroke="#111" stroke-width="1.22"/>
<path d="M836.4,469.9 L836.4,468.3 A2.6,1.2 0 0 1 841.6,468.3 L841.6,469.9 A2.6,1.2 0 0 1 836.4,469.9 Z" fill="#222"/>
<ellipse cx="839" cy="468.3" rx="1.6" ry="0.7" fill="#888"/>
<path d="M852,474.5 L858,470.5 Q862,469.8 866,472.5 L880,479 L886,483 L872,490 L858,484 Z" fill="#fff" stroke="#222" stroke-width="0.98"/>
<path d="M856,472.6 Q858,468.5 862,469.8 M878,478 Q882,476.6 884.2,480" fill="none" stroke="#222" stroke-width="0.85"/>
<path d="M881.7,484.8 L881.7,488.40000000000003 A11.8,4 0 0 0 905.3,488.40000000000003 L905.3,484.8 Z" fill="#c8c8c8" stroke="#111" stroke-width="1.22"/>
<path d="M882.2,486.40000000000003 A11.3,4 0 0 0 904.8,486.40000000000003" fill="none" stroke="#fff" stroke-width="1.10"/>
<ellipse cx="893.5" cy="484.8" rx="11.8" ry="4" fill="#fff" stroke="#111" stroke-width="1.22"/>
<path d="M890.9,484.2 L890.9,482.6 A2.6,1.2 0 0 1 896.1,482.6 L896.1,484.2 A2.6,1.2 0 0 1 890.9,484.2 Z" fill="#222"/>
<ellipse cx="893.5" cy="482.6" rx="1.6" ry="0.7" fill="#888"/>
<path d="M856,478.7 L866,482.4 L866,488.6 L856,485 Z" fill="#fff" stroke="#222" stroke-width="0.98"/>
<path d="M856,478.7 L862,476.4 L872,480 L866,482.4" fill="#fff" stroke="#222" stroke-width="0.85"/>
<ellipse cx="848.5999999999999" cy="480.40000000000003" rx="6.4" ry="7.4" fill="#ccc" stroke="#222" stroke-width="0.98"/>
<ellipse cx="846.8" cy="479.8" rx="6.4" ry="7.4" fill="#fff" stroke="#111" stroke-width="1.59"/>
<ellipse cx="846.8" cy="479.8" rx="3.4" ry="3.9" fill="#fff" stroke="#111" stroke-width="1.60"/>
<circle cx="846.8" cy="479.8" r="1.4" fill="#fff" stroke="#222" stroke-width="0.85"/>
<ellipse cx="873.8" cy="486.8" rx="6.4" ry="7.4" fill="#ccc" stroke="#222" stroke-width="0.98"/>
<ellipse cx="872" cy="486.2" rx="6.4" ry="7.4" fill="#fff" stroke="#111" stroke-width="1.59"/>
<ellipse cx="872" cy="486.2" rx="3.4" ry="3.9" fill="#fff" stroke="#111" stroke-width="1.60"/>
<circle cx="872" cy="486.2" r="1.4" fill="#fff" stroke="#222" stroke-width="0.85"/>
<text class="t" x="824.9" y="452.8" font-size="6.6" textLength="24.2" lengthAdjust="spacingAndGlyphs" >Bearings</text>
<path d="M851.2,450.5 L855.7,450.5 L860.6,463" fill="none" stroke="#333" stroke-width="0.85"/>
<polygon points="861.60,468.60 859.00,462.60 862.20,462.00" fill="#111" stroke="none" stroke-width="0.98" />
<text class="t" x="894.2" y="453.9" font-size="6.6" textLength="21.7" lengthAdjust="spacingAndGlyphs" >Support</text>
<path d="M892,451.5 L887.9,451.5 L871.5,470" fill="none" stroke="#333" stroke-width="0.85"/>
<polygon points="868.30,474.40 870.40,468.20 872.80,470.40" fill="#111" stroke="none" stroke-width="0.98" />
<text class="t" x="893.5" y="472.4" font-size="6.6" textLength="8.9" lengthAdjust="spacingAndGlyphs" >W4</text>
<path d="M891,470 L886,470 L880.5,473.5" fill="none" stroke="#333" stroke-width="0.85"/>
<polygon points="877.60,476.70 879.20,472.00 881.60,474.40" fill="#111" stroke="none" stroke-width="0.98" />
<text class="t" x="906.6" y="521.8" font-size="6.6" textLength="21.9" lengthAdjust="spacingAndGlyphs" >Bolt 5/8"</text>
<path d="M904,519.4 L897.2,519.4 L875.5,500.5" fill="none" stroke="#333" stroke-width="0.85"/>
<polygon points="871.50,497.40 877.00,499.20 874.80,501.80" fill="#111" stroke="none" stroke-width="0.98" />
<text class="t" x="791.5" y="523.4" font-size="6.6" textLength="22.2" lengthAdjust="spacingAndGlyphs" >Gussets</text>
<path d="M815,521 L820.2,521 L831.5,511" fill="none" stroke="#333" stroke-width="0.85"/>
<polygon points="835.20,508.20 830.20,509.60 832.40,512.40" fill="#111" stroke="none" stroke-width="0.98" />
<text class="t" x="795.5" y="559.6" font-size="6.6" textLength="21" lengthAdjust="spacingAndGlyphs" >Bracket</text>
<path d="M818,557.2 L822.5,557.2 L831.5,547.5" fill="none" stroke="#333" stroke-width="0.85"/>
<polygon points="834.40,543.90 829.80,546.60 832.60,548.60" fill="#111" stroke="none" stroke-width="0.98" />
<circle cx="798.5" cy="584" r="7" fill="none" stroke="#222" stroke-width="1.10"/>
<text class="t" x="798.5" y="587.8" font-size="10" text-anchor="middle" >3</text>
<line x1="805.50" y1="582.90" x2="895.40" y2="582.90" stroke="#333" stroke-width="1.60" />
<text class="t" x="806.2" y="579.4" font-size="10.3" textLength="82.2" lengthAdjust="spacingAndGlyphs" >HANGER DETAIL</text>
</svg>
</body></html>
